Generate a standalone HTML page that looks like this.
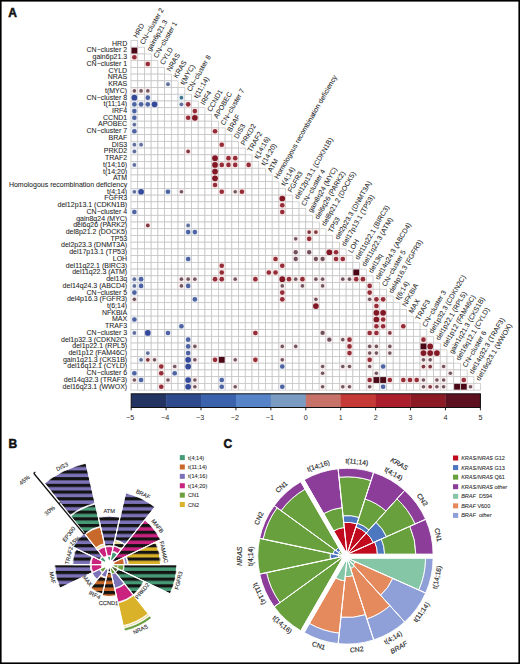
<!DOCTYPE html>
<html><head><meta charset="utf-8"><style>
html,body{margin:0;padding:0;background:#fff;}
svg{display:block;}
</style></head><body>
<svg width="520" height="664" viewBox="0 0 520 664">
<rect x="0" y="0" width="520" height="664" fill="#fff"/>
<g font-family="Liberation Sans, sans-serif" font-weight="bold" font-size="12" fill="#111" stroke="#111" stroke-width="0.5">
<text x="8.2" y="17.3">A</text>
<text x="8.6" y="448.2">B</text>
<text x="223.6" y="448.4">C</text>
</g>
<g fill="#fff" stroke="#c4c4c4" stroke-width="0.75">
<rect x="131.00" y="40.50" width="6.72" height="6.72"/>
<rect x="131.00" y="47.22" width="6.72" height="6.72"/>
<rect x="137.72" y="47.22" width="6.72" height="6.72"/>
<rect x="131.00" y="53.95" width="6.72" height="6.72"/>
<rect x="137.72" y="53.95" width="6.72" height="6.72"/>
<rect x="144.45" y="53.95" width="6.72" height="6.72"/>
<rect x="131.00" y="60.67" width="6.72" height="6.72"/>
<rect x="137.72" y="60.67" width="6.72" height="6.72"/>
<rect x="144.45" y="60.67" width="6.72" height="6.72"/>
<rect x="151.17" y="60.67" width="6.72" height="6.72"/>
<rect x="131.00" y="67.39" width="6.72" height="6.72"/>
<rect x="137.72" y="67.39" width="6.72" height="6.72"/>
<rect x="144.45" y="67.39" width="6.72" height="6.72"/>
<rect x="151.17" y="67.39" width="6.72" height="6.72"/>
<rect x="157.89" y="67.39" width="6.72" height="6.72"/>
<rect x="131.00" y="74.12" width="6.72" height="6.72"/>
<rect x="137.72" y="74.12" width="6.72" height="6.72"/>
<rect x="144.45" y="74.12" width="6.72" height="6.72"/>
<rect x="151.17" y="74.12" width="6.72" height="6.72"/>
<rect x="157.89" y="74.12" width="6.72" height="6.72"/>
<rect x="164.62" y="74.12" width="6.72" height="6.72"/>
<rect x="131.00" y="80.84" width="6.72" height="6.72"/>
<rect x="137.72" y="80.84" width="6.72" height="6.72"/>
<rect x="144.45" y="80.84" width="6.72" height="6.72"/>
<rect x="151.17" y="80.84" width="6.72" height="6.72"/>
<rect x="157.89" y="80.84" width="6.72" height="6.72"/>
<rect x="164.62" y="80.84" width="6.72" height="6.72"/>
<rect x="171.34" y="80.84" width="6.72" height="6.72"/>
<rect x="131.00" y="87.56" width="6.72" height="6.72"/>
<rect x="137.72" y="87.56" width="6.72" height="6.72"/>
<rect x="144.45" y="87.56" width="6.72" height="6.72"/>
<rect x="151.17" y="87.56" width="6.72" height="6.72"/>
<rect x="157.89" y="87.56" width="6.72" height="6.72"/>
<rect x="164.62" y="87.56" width="6.72" height="6.72"/>
<rect x="171.34" y="87.56" width="6.72" height="6.72"/>
<rect x="178.06" y="87.56" width="6.72" height="6.72"/>
<rect x="131.00" y="94.28" width="6.72" height="6.72"/>
<rect x="137.72" y="94.28" width="6.72" height="6.72"/>
<rect x="144.45" y="94.28" width="6.72" height="6.72"/>
<rect x="151.17" y="94.28" width="6.72" height="6.72"/>
<rect x="157.89" y="94.28" width="6.72" height="6.72"/>
<rect x="164.62" y="94.28" width="6.72" height="6.72"/>
<rect x="171.34" y="94.28" width="6.72" height="6.72"/>
<rect x="178.06" y="94.28" width="6.72" height="6.72"/>
<rect x="184.78" y="94.28" width="6.72" height="6.72"/>
<rect x="131.00" y="101.01" width="6.72" height="6.72"/>
<rect x="137.72" y="101.01" width="6.72" height="6.72"/>
<rect x="144.45" y="101.01" width="6.72" height="6.72"/>
<rect x="151.17" y="101.01" width="6.72" height="6.72"/>
<rect x="157.89" y="101.01" width="6.72" height="6.72"/>
<rect x="164.62" y="101.01" width="6.72" height="6.72"/>
<rect x="171.34" y="101.01" width="6.72" height="6.72"/>
<rect x="178.06" y="101.01" width="6.72" height="6.72"/>
<rect x="184.78" y="101.01" width="6.72" height="6.72"/>
<rect x="191.51" y="101.01" width="6.72" height="6.72"/>
<rect x="131.00" y="107.73" width="6.72" height="6.72"/>
<rect x="137.72" y="107.73" width="6.72" height="6.72"/>
<rect x="144.45" y="107.73" width="6.72" height="6.72"/>
<rect x="151.17" y="107.73" width="6.72" height="6.72"/>
<rect x="157.89" y="107.73" width="6.72" height="6.72"/>
<rect x="164.62" y="107.73" width="6.72" height="6.72"/>
<rect x="171.34" y="107.73" width="6.72" height="6.72"/>
<rect x="178.06" y="107.73" width="6.72" height="6.72"/>
<rect x="184.78" y="107.73" width="6.72" height="6.72"/>
<rect x="191.51" y="107.73" width="6.72" height="6.72"/>
<rect x="198.23" y="107.73" width="6.72" height="6.72"/>
<rect x="131.00" y="114.45" width="6.72" height="6.72"/>
<rect x="137.72" y="114.45" width="6.72" height="6.72"/>
<rect x="144.45" y="114.45" width="6.72" height="6.72"/>
<rect x="151.17" y="114.45" width="6.72" height="6.72"/>
<rect x="157.89" y="114.45" width="6.72" height="6.72"/>
<rect x="164.62" y="114.45" width="6.72" height="6.72"/>
<rect x="171.34" y="114.45" width="6.72" height="6.72"/>
<rect x="178.06" y="114.45" width="6.72" height="6.72"/>
<rect x="184.78" y="114.45" width="6.72" height="6.72"/>
<rect x="191.51" y="114.45" width="6.72" height="6.72"/>
<rect x="198.23" y="114.45" width="6.72" height="6.72"/>
<rect x="204.95" y="114.45" width="6.72" height="6.72"/>
<rect x="131.00" y="121.18" width="6.72" height="6.72"/>
<rect x="137.72" y="121.18" width="6.72" height="6.72"/>
<rect x="144.45" y="121.18" width="6.72" height="6.72"/>
<rect x="151.17" y="121.18" width="6.72" height="6.72"/>
<rect x="157.89" y="121.18" width="6.72" height="6.72"/>
<rect x="164.62" y="121.18" width="6.72" height="6.72"/>
<rect x="171.34" y="121.18" width="6.72" height="6.72"/>
<rect x="178.06" y="121.18" width="6.72" height="6.72"/>
<rect x="184.78" y="121.18" width="6.72" height="6.72"/>
<rect x="191.51" y="121.18" width="6.72" height="6.72"/>
<rect x="198.23" y="121.18" width="6.72" height="6.72"/>
<rect x="204.95" y="121.18" width="6.72" height="6.72"/>
<rect x="211.68" y="121.18" width="6.72" height="6.72"/>
<rect x="131.00" y="127.90" width="6.72" height="6.72"/>
<rect x="137.72" y="127.90" width="6.72" height="6.72"/>
<rect x="144.45" y="127.90" width="6.72" height="6.72"/>
<rect x="151.17" y="127.90" width="6.72" height="6.72"/>
<rect x="157.89" y="127.90" width="6.72" height="6.72"/>
<rect x="164.62" y="127.90" width="6.72" height="6.72"/>
<rect x="171.34" y="127.90" width="6.72" height="6.72"/>
<rect x="178.06" y="127.90" width="6.72" height="6.72"/>
<rect x="184.78" y="127.90" width="6.72" height="6.72"/>
<rect x="191.51" y="127.90" width="6.72" height="6.72"/>
<rect x="198.23" y="127.90" width="6.72" height="6.72"/>
<rect x="204.95" y="127.90" width="6.72" height="6.72"/>
<rect x="211.68" y="127.90" width="6.72" height="6.72"/>
<rect x="218.40" y="127.90" width="6.72" height="6.72"/>
<rect x="131.00" y="134.62" width="6.72" height="6.72"/>
<rect x="137.72" y="134.62" width="6.72" height="6.72"/>
<rect x="144.45" y="134.62" width="6.72" height="6.72"/>
<rect x="151.17" y="134.62" width="6.72" height="6.72"/>
<rect x="157.89" y="134.62" width="6.72" height="6.72"/>
<rect x="164.62" y="134.62" width="6.72" height="6.72"/>
<rect x="171.34" y="134.62" width="6.72" height="6.72"/>
<rect x="178.06" y="134.62" width="6.72" height="6.72"/>
<rect x="184.78" y="134.62" width="6.72" height="6.72"/>
<rect x="191.51" y="134.62" width="6.72" height="6.72"/>
<rect x="198.23" y="134.62" width="6.72" height="6.72"/>
<rect x="204.95" y="134.62" width="6.72" height="6.72"/>
<rect x="211.68" y="134.62" width="6.72" height="6.72"/>
<rect x="218.40" y="134.62" width="6.72" height="6.72"/>
<rect x="225.12" y="134.62" width="6.72" height="6.72"/>
<rect x="131.00" y="141.34" width="6.72" height="6.72"/>
<rect x="137.72" y="141.34" width="6.72" height="6.72"/>
<rect x="144.45" y="141.34" width="6.72" height="6.72"/>
<rect x="151.17" y="141.34" width="6.72" height="6.72"/>
<rect x="157.89" y="141.34" width="6.72" height="6.72"/>
<rect x="164.62" y="141.34" width="6.72" height="6.72"/>
<rect x="171.34" y="141.34" width="6.72" height="6.72"/>
<rect x="178.06" y="141.34" width="6.72" height="6.72"/>
<rect x="184.78" y="141.34" width="6.72" height="6.72"/>
<rect x="191.51" y="141.34" width="6.72" height="6.72"/>
<rect x="198.23" y="141.34" width="6.72" height="6.72"/>
<rect x="204.95" y="141.34" width="6.72" height="6.72"/>
<rect x="211.68" y="141.34" width="6.72" height="6.72"/>
<rect x="218.40" y="141.34" width="6.72" height="6.72"/>
<rect x="225.12" y="141.34" width="6.72" height="6.72"/>
<rect x="231.84" y="141.34" width="6.72" height="6.72"/>
<rect x="131.00" y="148.07" width="6.72" height="6.72"/>
<rect x="137.72" y="148.07" width="6.72" height="6.72"/>
<rect x="144.45" y="148.07" width="6.72" height="6.72"/>
<rect x="151.17" y="148.07" width="6.72" height="6.72"/>
<rect x="157.89" y="148.07" width="6.72" height="6.72"/>
<rect x="164.62" y="148.07" width="6.72" height="6.72"/>
<rect x="171.34" y="148.07" width="6.72" height="6.72"/>
<rect x="178.06" y="148.07" width="6.72" height="6.72"/>
<rect x="184.78" y="148.07" width="6.72" height="6.72"/>
<rect x="191.51" y="148.07" width="6.72" height="6.72"/>
<rect x="198.23" y="148.07" width="6.72" height="6.72"/>
<rect x="204.95" y="148.07" width="6.72" height="6.72"/>
<rect x="211.68" y="148.07" width="6.72" height="6.72"/>
<rect x="218.40" y="148.07" width="6.72" height="6.72"/>
<rect x="225.12" y="148.07" width="6.72" height="6.72"/>
<rect x="231.84" y="148.07" width="6.72" height="6.72"/>
<rect x="238.57" y="148.07" width="6.72" height="6.72"/>
<rect x="131.00" y="154.79" width="6.72" height="6.72"/>
<rect x="137.72" y="154.79" width="6.72" height="6.72"/>
<rect x="144.45" y="154.79" width="6.72" height="6.72"/>
<rect x="151.17" y="154.79" width="6.72" height="6.72"/>
<rect x="157.89" y="154.79" width="6.72" height="6.72"/>
<rect x="164.62" y="154.79" width="6.72" height="6.72"/>
<rect x="171.34" y="154.79" width="6.72" height="6.72"/>
<rect x="178.06" y="154.79" width="6.72" height="6.72"/>
<rect x="184.78" y="154.79" width="6.72" height="6.72"/>
<rect x="191.51" y="154.79" width="6.72" height="6.72"/>
<rect x="198.23" y="154.79" width="6.72" height="6.72"/>
<rect x="204.95" y="154.79" width="6.72" height="6.72"/>
<rect x="211.68" y="154.79" width="6.72" height="6.72"/>
<rect x="218.40" y="154.79" width="6.72" height="6.72"/>
<rect x="225.12" y="154.79" width="6.72" height="6.72"/>
<rect x="231.84" y="154.79" width="6.72" height="6.72"/>
<rect x="238.57" y="154.79" width="6.72" height="6.72"/>
<rect x="245.29" y="154.79" width="6.72" height="6.72"/>
<rect x="131.00" y="161.51" width="6.72" height="6.72"/>
<rect x="137.72" y="161.51" width="6.72" height="6.72"/>
<rect x="144.45" y="161.51" width="6.72" height="6.72"/>
<rect x="151.17" y="161.51" width="6.72" height="6.72"/>
<rect x="157.89" y="161.51" width="6.72" height="6.72"/>
<rect x="164.62" y="161.51" width="6.72" height="6.72"/>
<rect x="171.34" y="161.51" width="6.72" height="6.72"/>
<rect x="178.06" y="161.51" width="6.72" height="6.72"/>
<rect x="184.78" y="161.51" width="6.72" height="6.72"/>
<rect x="191.51" y="161.51" width="6.72" height="6.72"/>
<rect x="198.23" y="161.51" width="6.72" height="6.72"/>
<rect x="204.95" y="161.51" width="6.72" height="6.72"/>
<rect x="211.68" y="161.51" width="6.72" height="6.72"/>
<rect x="218.40" y="161.51" width="6.72" height="6.72"/>
<rect x="225.12" y="161.51" width="6.72" height="6.72"/>
<rect x="231.84" y="161.51" width="6.72" height="6.72"/>
<rect x="238.57" y="161.51" width="6.72" height="6.72"/>
<rect x="245.29" y="161.51" width="6.72" height="6.72"/>
<rect x="252.01" y="161.51" width="6.72" height="6.72"/>
<rect x="131.00" y="168.24" width="6.72" height="6.72"/>
<rect x="137.72" y="168.24" width="6.72" height="6.72"/>
<rect x="144.45" y="168.24" width="6.72" height="6.72"/>
<rect x="151.17" y="168.24" width="6.72" height="6.72"/>
<rect x="157.89" y="168.24" width="6.72" height="6.72"/>
<rect x="164.62" y="168.24" width="6.72" height="6.72"/>
<rect x="171.34" y="168.24" width="6.72" height="6.72"/>
<rect x="178.06" y="168.24" width="6.72" height="6.72"/>
<rect x="184.78" y="168.24" width="6.72" height="6.72"/>
<rect x="191.51" y="168.24" width="6.72" height="6.72"/>
<rect x="198.23" y="168.24" width="6.72" height="6.72"/>
<rect x="204.95" y="168.24" width="6.72" height="6.72"/>
<rect x="211.68" y="168.24" width="6.72" height="6.72"/>
<rect x="218.40" y="168.24" width="6.72" height="6.72"/>
<rect x="225.12" y="168.24" width="6.72" height="6.72"/>
<rect x="231.84" y="168.24" width="6.72" height="6.72"/>
<rect x="238.57" y="168.24" width="6.72" height="6.72"/>
<rect x="245.29" y="168.24" width="6.72" height="6.72"/>
<rect x="252.01" y="168.24" width="6.72" height="6.72"/>
<rect x="258.74" y="168.24" width="6.72" height="6.72"/>
<rect x="131.00" y="174.96" width="6.72" height="6.72"/>
<rect x="137.72" y="174.96" width="6.72" height="6.72"/>
<rect x="144.45" y="174.96" width="6.72" height="6.72"/>
<rect x="151.17" y="174.96" width="6.72" height="6.72"/>
<rect x="157.89" y="174.96" width="6.72" height="6.72"/>
<rect x="164.62" y="174.96" width="6.72" height="6.72"/>
<rect x="171.34" y="174.96" width="6.72" height="6.72"/>
<rect x="178.06" y="174.96" width="6.72" height="6.72"/>
<rect x="184.78" y="174.96" width="6.72" height="6.72"/>
<rect x="191.51" y="174.96" width="6.72" height="6.72"/>
<rect x="198.23" y="174.96" width="6.72" height="6.72"/>
<rect x="204.95" y="174.96" width="6.72" height="6.72"/>
<rect x="211.68" y="174.96" width="6.72" height="6.72"/>
<rect x="218.40" y="174.96" width="6.72" height="6.72"/>
<rect x="225.12" y="174.96" width="6.72" height="6.72"/>
<rect x="231.84" y="174.96" width="6.72" height="6.72"/>
<rect x="238.57" y="174.96" width="6.72" height="6.72"/>
<rect x="245.29" y="174.96" width="6.72" height="6.72"/>
<rect x="252.01" y="174.96" width="6.72" height="6.72"/>
<rect x="258.74" y="174.96" width="6.72" height="6.72"/>
<rect x="265.46" y="174.96" width="6.72" height="6.72"/>
<rect x="131.00" y="181.68" width="6.72" height="6.72"/>
<rect x="137.72" y="181.68" width="6.72" height="6.72"/>
<rect x="144.45" y="181.68" width="6.72" height="6.72"/>
<rect x="151.17" y="181.68" width="6.72" height="6.72"/>
<rect x="157.89" y="181.68" width="6.72" height="6.72"/>
<rect x="164.62" y="181.68" width="6.72" height="6.72"/>
<rect x="171.34" y="181.68" width="6.72" height="6.72"/>
<rect x="178.06" y="181.68" width="6.72" height="6.72"/>
<rect x="184.78" y="181.68" width="6.72" height="6.72"/>
<rect x="191.51" y="181.68" width="6.72" height="6.72"/>
<rect x="198.23" y="181.68" width="6.72" height="6.72"/>
<rect x="204.95" y="181.68" width="6.72" height="6.72"/>
<rect x="211.68" y="181.68" width="6.72" height="6.72"/>
<rect x="218.40" y="181.68" width="6.72" height="6.72"/>
<rect x="225.12" y="181.68" width="6.72" height="6.72"/>
<rect x="231.84" y="181.68" width="6.72" height="6.72"/>
<rect x="238.57" y="181.68" width="6.72" height="6.72"/>
<rect x="245.29" y="181.68" width="6.72" height="6.72"/>
<rect x="252.01" y="181.68" width="6.72" height="6.72"/>
<rect x="258.74" y="181.68" width="6.72" height="6.72"/>
<rect x="265.46" y="181.68" width="6.72" height="6.72"/>
<rect x="272.18" y="181.68" width="6.72" height="6.72"/>
<rect x="131.00" y="188.41" width="6.72" height="6.72"/>
<rect x="137.72" y="188.41" width="6.72" height="6.72"/>
<rect x="144.45" y="188.41" width="6.72" height="6.72"/>
<rect x="151.17" y="188.41" width="6.72" height="6.72"/>
<rect x="157.89" y="188.41" width="6.72" height="6.72"/>
<rect x="164.62" y="188.41" width="6.72" height="6.72"/>
<rect x="171.34" y="188.41" width="6.72" height="6.72"/>
<rect x="178.06" y="188.41" width="6.72" height="6.72"/>
<rect x="184.78" y="188.41" width="6.72" height="6.72"/>
<rect x="191.51" y="188.41" width="6.72" height="6.72"/>
<rect x="198.23" y="188.41" width="6.72" height="6.72"/>
<rect x="204.95" y="188.41" width="6.72" height="6.72"/>
<rect x="211.68" y="188.41" width="6.72" height="6.72"/>
<rect x="218.40" y="188.41" width="6.72" height="6.72"/>
<rect x="225.12" y="188.41" width="6.72" height="6.72"/>
<rect x="231.84" y="188.41" width="6.72" height="6.72"/>
<rect x="238.57" y="188.41" width="6.72" height="6.72"/>
<rect x="245.29" y="188.41" width="6.72" height="6.72"/>
<rect x="252.01" y="188.41" width="6.72" height="6.72"/>
<rect x="258.74" y="188.41" width="6.72" height="6.72"/>
<rect x="265.46" y="188.41" width="6.72" height="6.72"/>
<rect x="272.18" y="188.41" width="6.72" height="6.72"/>
<rect x="278.91" y="188.41" width="6.72" height="6.72"/>
<rect x="131.00" y="195.13" width="6.72" height="6.72"/>
<rect x="137.72" y="195.13" width="6.72" height="6.72"/>
<rect x="144.45" y="195.13" width="6.72" height="6.72"/>
<rect x="151.17" y="195.13" width="6.72" height="6.72"/>
<rect x="157.89" y="195.13" width="6.72" height="6.72"/>
<rect x="164.62" y="195.13" width="6.72" height="6.72"/>
<rect x="171.34" y="195.13" width="6.72" height="6.72"/>
<rect x="178.06" y="195.13" width="6.72" height="6.72"/>
<rect x="184.78" y="195.13" width="6.72" height="6.72"/>
<rect x="191.51" y="195.13" width="6.72" height="6.72"/>
<rect x="198.23" y="195.13" width="6.72" height="6.72"/>
<rect x="204.95" y="195.13" width="6.72" height="6.72"/>
<rect x="211.68" y="195.13" width="6.72" height="6.72"/>
<rect x="218.40" y="195.13" width="6.72" height="6.72"/>
<rect x="225.12" y="195.13" width="6.72" height="6.72"/>
<rect x="231.84" y="195.13" width="6.72" height="6.72"/>
<rect x="238.57" y="195.13" width="6.72" height="6.72"/>
<rect x="245.29" y="195.13" width="6.72" height="6.72"/>
<rect x="252.01" y="195.13" width="6.72" height="6.72"/>
<rect x="258.74" y="195.13" width="6.72" height="6.72"/>
<rect x="265.46" y="195.13" width="6.72" height="6.72"/>
<rect x="272.18" y="195.13" width="6.72" height="6.72"/>
<rect x="278.91" y="195.13" width="6.72" height="6.72"/>
<rect x="285.63" y="195.13" width="6.72" height="6.72"/>
<rect x="131.00" y="201.85" width="6.72" height="6.72"/>
<rect x="137.72" y="201.85" width="6.72" height="6.72"/>
<rect x="144.45" y="201.85" width="6.72" height="6.72"/>
<rect x="151.17" y="201.85" width="6.72" height="6.72"/>
<rect x="157.89" y="201.85" width="6.72" height="6.72"/>
<rect x="164.62" y="201.85" width="6.72" height="6.72"/>
<rect x="171.34" y="201.85" width="6.72" height="6.72"/>
<rect x="178.06" y="201.85" width="6.72" height="6.72"/>
<rect x="184.78" y="201.85" width="6.72" height="6.72"/>
<rect x="191.51" y="201.85" width="6.72" height="6.72"/>
<rect x="198.23" y="201.85" width="6.72" height="6.72"/>
<rect x="204.95" y="201.85" width="6.72" height="6.72"/>
<rect x="211.68" y="201.85" width="6.72" height="6.72"/>
<rect x="218.40" y="201.85" width="6.72" height="6.72"/>
<rect x="225.12" y="201.85" width="6.72" height="6.72"/>
<rect x="231.84" y="201.85" width="6.72" height="6.72"/>
<rect x="238.57" y="201.85" width="6.72" height="6.72"/>
<rect x="245.29" y="201.85" width="6.72" height="6.72"/>
<rect x="252.01" y="201.85" width="6.72" height="6.72"/>
<rect x="258.74" y="201.85" width="6.72" height="6.72"/>
<rect x="265.46" y="201.85" width="6.72" height="6.72"/>
<rect x="272.18" y="201.85" width="6.72" height="6.72"/>
<rect x="278.91" y="201.85" width="6.72" height="6.72"/>
<rect x="285.63" y="201.85" width="6.72" height="6.72"/>
<rect x="292.35" y="201.85" width="6.72" height="6.72"/>
<rect x="131.00" y="208.57" width="6.72" height="6.72"/>
<rect x="137.72" y="208.57" width="6.72" height="6.72"/>
<rect x="144.45" y="208.57" width="6.72" height="6.72"/>
<rect x="151.17" y="208.57" width="6.72" height="6.72"/>
<rect x="157.89" y="208.57" width="6.72" height="6.72"/>
<rect x="164.62" y="208.57" width="6.72" height="6.72"/>
<rect x="171.34" y="208.57" width="6.72" height="6.72"/>
<rect x="178.06" y="208.57" width="6.72" height="6.72"/>
<rect x="184.78" y="208.57" width="6.72" height="6.72"/>
<rect x="191.51" y="208.57" width="6.72" height="6.72"/>
<rect x="198.23" y="208.57" width="6.72" height="6.72"/>
<rect x="204.95" y="208.57" width="6.72" height="6.72"/>
<rect x="211.68" y="208.57" width="6.72" height="6.72"/>
<rect x="218.40" y="208.57" width="6.72" height="6.72"/>
<rect x="225.12" y="208.57" width="6.72" height="6.72"/>
<rect x="231.84" y="208.57" width="6.72" height="6.72"/>
<rect x="238.57" y="208.57" width="6.72" height="6.72"/>
<rect x="245.29" y="208.57" width="6.72" height="6.72"/>
<rect x="252.01" y="208.57" width="6.72" height="6.72"/>
<rect x="258.74" y="208.57" width="6.72" height="6.72"/>
<rect x="265.46" y="208.57" width="6.72" height="6.72"/>
<rect x="272.18" y="208.57" width="6.72" height="6.72"/>
<rect x="278.91" y="208.57" width="6.72" height="6.72"/>
<rect x="285.63" y="208.57" width="6.72" height="6.72"/>
<rect x="292.35" y="208.57" width="6.72" height="6.72"/>
<rect x="299.07" y="208.57" width="6.72" height="6.72"/>
<rect x="131.00" y="215.30" width="6.72" height="6.72"/>
<rect x="137.72" y="215.30" width="6.72" height="6.72"/>
<rect x="144.45" y="215.30" width="6.72" height="6.72"/>
<rect x="151.17" y="215.30" width="6.72" height="6.72"/>
<rect x="157.89" y="215.30" width="6.72" height="6.72"/>
<rect x="164.62" y="215.30" width="6.72" height="6.72"/>
<rect x="171.34" y="215.30" width="6.72" height="6.72"/>
<rect x="178.06" y="215.30" width="6.72" height="6.72"/>
<rect x="184.78" y="215.30" width="6.72" height="6.72"/>
<rect x="191.51" y="215.30" width="6.72" height="6.72"/>
<rect x="198.23" y="215.30" width="6.72" height="6.72"/>
<rect x="204.95" y="215.30" width="6.72" height="6.72"/>
<rect x="211.68" y="215.30" width="6.72" height="6.72"/>
<rect x="218.40" y="215.30" width="6.72" height="6.72"/>
<rect x="225.12" y="215.30" width="6.72" height="6.72"/>
<rect x="231.84" y="215.30" width="6.72" height="6.72"/>
<rect x="238.57" y="215.30" width="6.72" height="6.72"/>
<rect x="245.29" y="215.30" width="6.72" height="6.72"/>
<rect x="252.01" y="215.30" width="6.72" height="6.72"/>
<rect x="258.74" y="215.30" width="6.72" height="6.72"/>
<rect x="265.46" y="215.30" width="6.72" height="6.72"/>
<rect x="272.18" y="215.30" width="6.72" height="6.72"/>
<rect x="278.91" y="215.30" width="6.72" height="6.72"/>
<rect x="285.63" y="215.30" width="6.72" height="6.72"/>
<rect x="292.35" y="215.30" width="6.72" height="6.72"/>
<rect x="299.07" y="215.30" width="6.72" height="6.72"/>
<rect x="305.80" y="215.30" width="6.72" height="6.72"/>
<rect x="131.00" y="222.02" width="6.72" height="6.72"/>
<rect x="137.72" y="222.02" width="6.72" height="6.72"/>
<rect x="144.45" y="222.02" width="6.72" height="6.72"/>
<rect x="151.17" y="222.02" width="6.72" height="6.72"/>
<rect x="157.89" y="222.02" width="6.72" height="6.72"/>
<rect x="164.62" y="222.02" width="6.72" height="6.72"/>
<rect x="171.34" y="222.02" width="6.72" height="6.72"/>
<rect x="178.06" y="222.02" width="6.72" height="6.72"/>
<rect x="184.78" y="222.02" width="6.72" height="6.72"/>
<rect x="191.51" y="222.02" width="6.72" height="6.72"/>
<rect x="198.23" y="222.02" width="6.72" height="6.72"/>
<rect x="204.95" y="222.02" width="6.72" height="6.72"/>
<rect x="211.68" y="222.02" width="6.72" height="6.72"/>
<rect x="218.40" y="222.02" width="6.72" height="6.72"/>
<rect x="225.12" y="222.02" width="6.72" height="6.72"/>
<rect x="231.84" y="222.02" width="6.72" height="6.72"/>
<rect x="238.57" y="222.02" width="6.72" height="6.72"/>
<rect x="245.29" y="222.02" width="6.72" height="6.72"/>
<rect x="252.01" y="222.02" width="6.72" height="6.72"/>
<rect x="258.74" y="222.02" width="6.72" height="6.72"/>
<rect x="265.46" y="222.02" width="6.72" height="6.72"/>
<rect x="272.18" y="222.02" width="6.72" height="6.72"/>
<rect x="278.91" y="222.02" width="6.72" height="6.72"/>
<rect x="285.63" y="222.02" width="6.72" height="6.72"/>
<rect x="292.35" y="222.02" width="6.72" height="6.72"/>
<rect x="299.07" y="222.02" width="6.72" height="6.72"/>
<rect x="305.80" y="222.02" width="6.72" height="6.72"/>
<rect x="312.52" y="222.02" width="6.72" height="6.72"/>
<rect x="131.00" y="228.74" width="6.72" height="6.72"/>
<rect x="137.72" y="228.74" width="6.72" height="6.72"/>
<rect x="144.45" y="228.74" width="6.72" height="6.72"/>
<rect x="151.17" y="228.74" width="6.72" height="6.72"/>
<rect x="157.89" y="228.74" width="6.72" height="6.72"/>
<rect x="164.62" y="228.74" width="6.72" height="6.72"/>
<rect x="171.34" y="228.74" width="6.72" height="6.72"/>
<rect x="178.06" y="228.74" width="6.72" height="6.72"/>
<rect x="184.78" y="228.74" width="6.72" height="6.72"/>
<rect x="191.51" y="228.74" width="6.72" height="6.72"/>
<rect x="198.23" y="228.74" width="6.72" height="6.72"/>
<rect x="204.95" y="228.74" width="6.72" height="6.72"/>
<rect x="211.68" y="228.74" width="6.72" height="6.72"/>
<rect x="218.40" y="228.74" width="6.72" height="6.72"/>
<rect x="225.12" y="228.74" width="6.72" height="6.72"/>
<rect x="231.84" y="228.74" width="6.72" height="6.72"/>
<rect x="238.57" y="228.74" width="6.72" height="6.72"/>
<rect x="245.29" y="228.74" width="6.72" height="6.72"/>
<rect x="252.01" y="228.74" width="6.72" height="6.72"/>
<rect x="258.74" y="228.74" width="6.72" height="6.72"/>
<rect x="265.46" y="228.74" width="6.72" height="6.72"/>
<rect x="272.18" y="228.74" width="6.72" height="6.72"/>
<rect x="278.91" y="228.74" width="6.72" height="6.72"/>
<rect x="285.63" y="228.74" width="6.72" height="6.72"/>
<rect x="292.35" y="228.74" width="6.72" height="6.72"/>
<rect x="299.07" y="228.74" width="6.72" height="6.72"/>
<rect x="305.80" y="228.74" width="6.72" height="6.72"/>
<rect x="312.52" y="228.74" width="6.72" height="6.72"/>
<rect x="319.24" y="228.74" width="6.72" height="6.72"/>
<rect x="131.00" y="235.47" width="6.72" height="6.72"/>
<rect x="137.72" y="235.47" width="6.72" height="6.72"/>
<rect x="144.45" y="235.47" width="6.72" height="6.72"/>
<rect x="151.17" y="235.47" width="6.72" height="6.72"/>
<rect x="157.89" y="235.47" width="6.72" height="6.72"/>
<rect x="164.62" y="235.47" width="6.72" height="6.72"/>
<rect x="171.34" y="235.47" width="6.72" height="6.72"/>
<rect x="178.06" y="235.47" width="6.72" height="6.72"/>
<rect x="184.78" y="235.47" width="6.72" height="6.72"/>
<rect x="191.51" y="235.47" width="6.72" height="6.72"/>
<rect x="198.23" y="235.47" width="6.72" height="6.72"/>
<rect x="204.95" y="235.47" width="6.72" height="6.72"/>
<rect x="211.68" y="235.47" width="6.72" height="6.72"/>
<rect x="218.40" y="235.47" width="6.72" height="6.72"/>
<rect x="225.12" y="235.47" width="6.72" height="6.72"/>
<rect x="231.84" y="235.47" width="6.72" height="6.72"/>
<rect x="238.57" y="235.47" width="6.72" height="6.72"/>
<rect x="245.29" y="235.47" width="6.72" height="6.72"/>
<rect x="252.01" y="235.47" width="6.72" height="6.72"/>
<rect x="258.74" y="235.47" width="6.72" height="6.72"/>
<rect x="265.46" y="235.47" width="6.72" height="6.72"/>
<rect x="272.18" y="235.47" width="6.72" height="6.72"/>
<rect x="278.91" y="235.47" width="6.72" height="6.72"/>
<rect x="285.63" y="235.47" width="6.72" height="6.72"/>
<rect x="292.35" y="235.47" width="6.72" height="6.72"/>
<rect x="299.07" y="235.47" width="6.72" height="6.72"/>
<rect x="305.80" y="235.47" width="6.72" height="6.72"/>
<rect x="312.52" y="235.47" width="6.72" height="6.72"/>
<rect x="319.24" y="235.47" width="6.72" height="6.72"/>
<rect x="325.97" y="235.47" width="6.72" height="6.72"/>
<rect x="131.00" y="242.19" width="6.72" height="6.72"/>
<rect x="137.72" y="242.19" width="6.72" height="6.72"/>
<rect x="144.45" y="242.19" width="6.72" height="6.72"/>
<rect x="151.17" y="242.19" width="6.72" height="6.72"/>
<rect x="157.89" y="242.19" width="6.72" height="6.72"/>
<rect x="164.62" y="242.19" width="6.72" height="6.72"/>
<rect x="171.34" y="242.19" width="6.72" height="6.72"/>
<rect x="178.06" y="242.19" width="6.72" height="6.72"/>
<rect x="184.78" y="242.19" width="6.72" height="6.72"/>
<rect x="191.51" y="242.19" width="6.72" height="6.72"/>
<rect x="198.23" y="242.19" width="6.72" height="6.72"/>
<rect x="204.95" y="242.19" width="6.72" height="6.72"/>
<rect x="211.68" y="242.19" width="6.72" height="6.72"/>
<rect x="218.40" y="242.19" width="6.72" height="6.72"/>
<rect x="225.12" y="242.19" width="6.72" height="6.72"/>
<rect x="231.84" y="242.19" width="6.72" height="6.72"/>
<rect x="238.57" y="242.19" width="6.72" height="6.72"/>
<rect x="245.29" y="242.19" width="6.72" height="6.72"/>
<rect x="252.01" y="242.19" width="6.72" height="6.72"/>
<rect x="258.74" y="242.19" width="6.72" height="6.72"/>
<rect x="265.46" y="242.19" width="6.72" height="6.72"/>
<rect x="272.18" y="242.19" width="6.72" height="6.72"/>
<rect x="278.91" y="242.19" width="6.72" height="6.72"/>
<rect x="285.63" y="242.19" width="6.72" height="6.72"/>
<rect x="292.35" y="242.19" width="6.72" height="6.72"/>
<rect x="299.07" y="242.19" width="6.72" height="6.72"/>
<rect x="305.80" y="242.19" width="6.72" height="6.72"/>
<rect x="312.52" y="242.19" width="6.72" height="6.72"/>
<rect x="319.24" y="242.19" width="6.72" height="6.72"/>
<rect x="325.97" y="242.19" width="6.72" height="6.72"/>
<rect x="332.69" y="242.19" width="6.72" height="6.72"/>
<rect x="131.00" y="248.91" width="6.72" height="6.72"/>
<rect x="137.72" y="248.91" width="6.72" height="6.72"/>
<rect x="144.45" y="248.91" width="6.72" height="6.72"/>
<rect x="151.17" y="248.91" width="6.72" height="6.72"/>
<rect x="157.89" y="248.91" width="6.72" height="6.72"/>
<rect x="164.62" y="248.91" width="6.72" height="6.72"/>
<rect x="171.34" y="248.91" width="6.72" height="6.72"/>
<rect x="178.06" y="248.91" width="6.72" height="6.72"/>
<rect x="184.78" y="248.91" width="6.72" height="6.72"/>
<rect x="191.51" y="248.91" width="6.72" height="6.72"/>
<rect x="198.23" y="248.91" width="6.72" height="6.72"/>
<rect x="204.95" y="248.91" width="6.72" height="6.72"/>
<rect x="211.68" y="248.91" width="6.72" height="6.72"/>
<rect x="218.40" y="248.91" width="6.72" height="6.72"/>
<rect x="225.12" y="248.91" width="6.72" height="6.72"/>
<rect x="231.84" y="248.91" width="6.72" height="6.72"/>
<rect x="238.57" y="248.91" width="6.72" height="6.72"/>
<rect x="245.29" y="248.91" width="6.72" height="6.72"/>
<rect x="252.01" y="248.91" width="6.72" height="6.72"/>
<rect x="258.74" y="248.91" width="6.72" height="6.72"/>
<rect x="265.46" y="248.91" width="6.72" height="6.72"/>
<rect x="272.18" y="248.91" width="6.72" height="6.72"/>
<rect x="278.91" y="248.91" width="6.72" height="6.72"/>
<rect x="285.63" y="248.91" width="6.72" height="6.72"/>
<rect x="292.35" y="248.91" width="6.72" height="6.72"/>
<rect x="299.07" y="248.91" width="6.72" height="6.72"/>
<rect x="305.80" y="248.91" width="6.72" height="6.72"/>
<rect x="312.52" y="248.91" width="6.72" height="6.72"/>
<rect x="319.24" y="248.91" width="6.72" height="6.72"/>
<rect x="325.97" y="248.91" width="6.72" height="6.72"/>
<rect x="332.69" y="248.91" width="6.72" height="6.72"/>
<rect x="339.41" y="248.91" width="6.72" height="6.72"/>
<rect x="131.00" y="255.64" width="6.72" height="6.72"/>
<rect x="137.72" y="255.64" width="6.72" height="6.72"/>
<rect x="144.45" y="255.64" width="6.72" height="6.72"/>
<rect x="151.17" y="255.64" width="6.72" height="6.72"/>
<rect x="157.89" y="255.64" width="6.72" height="6.72"/>
<rect x="164.62" y="255.64" width="6.72" height="6.72"/>
<rect x="171.34" y="255.64" width="6.72" height="6.72"/>
<rect x="178.06" y="255.64" width="6.72" height="6.72"/>
<rect x="184.78" y="255.64" width="6.72" height="6.72"/>
<rect x="191.51" y="255.64" width="6.72" height="6.72"/>
<rect x="198.23" y="255.64" width="6.72" height="6.72"/>
<rect x="204.95" y="255.64" width="6.72" height="6.72"/>
<rect x="211.68" y="255.64" width="6.72" height="6.72"/>
<rect x="218.40" y="255.64" width="6.72" height="6.72"/>
<rect x="225.12" y="255.64" width="6.72" height="6.72"/>
<rect x="231.84" y="255.64" width="6.72" height="6.72"/>
<rect x="238.57" y="255.64" width="6.72" height="6.72"/>
<rect x="245.29" y="255.64" width="6.72" height="6.72"/>
<rect x="252.01" y="255.64" width="6.72" height="6.72"/>
<rect x="258.74" y="255.64" width="6.72" height="6.72"/>
<rect x="265.46" y="255.64" width="6.72" height="6.72"/>
<rect x="272.18" y="255.64" width="6.72" height="6.72"/>
<rect x="278.91" y="255.64" width="6.72" height="6.72"/>
<rect x="285.63" y="255.64" width="6.72" height="6.72"/>
<rect x="292.35" y="255.64" width="6.72" height="6.72"/>
<rect x="299.07" y="255.64" width="6.72" height="6.72"/>
<rect x="305.80" y="255.64" width="6.72" height="6.72"/>
<rect x="312.52" y="255.64" width="6.72" height="6.72"/>
<rect x="319.24" y="255.64" width="6.72" height="6.72"/>
<rect x="325.97" y="255.64" width="6.72" height="6.72"/>
<rect x="332.69" y="255.64" width="6.72" height="6.72"/>
<rect x="339.41" y="255.64" width="6.72" height="6.72"/>
<rect x="346.14" y="255.64" width="6.72" height="6.72"/>
<rect x="131.00" y="262.36" width="6.72" height="6.72"/>
<rect x="137.72" y="262.36" width="6.72" height="6.72"/>
<rect x="144.45" y="262.36" width="6.72" height="6.72"/>
<rect x="151.17" y="262.36" width="6.72" height="6.72"/>
<rect x="157.89" y="262.36" width="6.72" height="6.72"/>
<rect x="164.62" y="262.36" width="6.72" height="6.72"/>
<rect x="171.34" y="262.36" width="6.72" height="6.72"/>
<rect x="178.06" y="262.36" width="6.72" height="6.72"/>
<rect x="184.78" y="262.36" width="6.72" height="6.72"/>
<rect x="191.51" y="262.36" width="6.72" height="6.72"/>
<rect x="198.23" y="262.36" width="6.72" height="6.72"/>
<rect x="204.95" y="262.36" width="6.72" height="6.72"/>
<rect x="211.68" y="262.36" width="6.72" height="6.72"/>
<rect x="218.40" y="262.36" width="6.72" height="6.72"/>
<rect x="225.12" y="262.36" width="6.72" height="6.72"/>
<rect x="231.84" y="262.36" width="6.72" height="6.72"/>
<rect x="238.57" y="262.36" width="6.72" height="6.72"/>
<rect x="245.29" y="262.36" width="6.72" height="6.72"/>
<rect x="252.01" y="262.36" width="6.72" height="6.72"/>
<rect x="258.74" y="262.36" width="6.72" height="6.72"/>
<rect x="265.46" y="262.36" width="6.72" height="6.72"/>
<rect x="272.18" y="262.36" width="6.72" height="6.72"/>
<rect x="278.91" y="262.36" width="6.72" height="6.72"/>
<rect x="285.63" y="262.36" width="6.72" height="6.72"/>
<rect x="292.35" y="262.36" width="6.72" height="6.72"/>
<rect x="299.07" y="262.36" width="6.72" height="6.72"/>
<rect x="305.80" y="262.36" width="6.72" height="6.72"/>
<rect x="312.52" y="262.36" width="6.72" height="6.72"/>
<rect x="319.24" y="262.36" width="6.72" height="6.72"/>
<rect x="325.97" y="262.36" width="6.72" height="6.72"/>
<rect x="332.69" y="262.36" width="6.72" height="6.72"/>
<rect x="339.41" y="262.36" width="6.72" height="6.72"/>
<rect x="346.14" y="262.36" width="6.72" height="6.72"/>
<rect x="352.86" y="262.36" width="6.72" height="6.72"/>
<rect x="131.00" y="269.08" width="6.72" height="6.72"/>
<rect x="137.72" y="269.08" width="6.72" height="6.72"/>
<rect x="144.45" y="269.08" width="6.72" height="6.72"/>
<rect x="151.17" y="269.08" width="6.72" height="6.72"/>
<rect x="157.89" y="269.08" width="6.72" height="6.72"/>
<rect x="164.62" y="269.08" width="6.72" height="6.72"/>
<rect x="171.34" y="269.08" width="6.72" height="6.72"/>
<rect x="178.06" y="269.08" width="6.72" height="6.72"/>
<rect x="184.78" y="269.08" width="6.72" height="6.72"/>
<rect x="191.51" y="269.08" width="6.72" height="6.72"/>
<rect x="198.23" y="269.08" width="6.72" height="6.72"/>
<rect x="204.95" y="269.08" width="6.72" height="6.72"/>
<rect x="211.68" y="269.08" width="6.72" height="6.72"/>
<rect x="218.40" y="269.08" width="6.72" height="6.72"/>
<rect x="225.12" y="269.08" width="6.72" height="6.72"/>
<rect x="231.84" y="269.08" width="6.72" height="6.72"/>
<rect x="238.57" y="269.08" width="6.72" height="6.72"/>
<rect x="245.29" y="269.08" width="6.72" height="6.72"/>
<rect x="252.01" y="269.08" width="6.72" height="6.72"/>
<rect x="258.74" y="269.08" width="6.72" height="6.72"/>
<rect x="265.46" y="269.08" width="6.72" height="6.72"/>
<rect x="272.18" y="269.08" width="6.72" height="6.72"/>
<rect x="278.91" y="269.08" width="6.72" height="6.72"/>
<rect x="285.63" y="269.08" width="6.72" height="6.72"/>
<rect x="292.35" y="269.08" width="6.72" height="6.72"/>
<rect x="299.07" y="269.08" width="6.72" height="6.72"/>
<rect x="305.80" y="269.08" width="6.72" height="6.72"/>
<rect x="312.52" y="269.08" width="6.72" height="6.72"/>
<rect x="319.24" y="269.08" width="6.72" height="6.72"/>
<rect x="325.97" y="269.08" width="6.72" height="6.72"/>
<rect x="332.69" y="269.08" width="6.72" height="6.72"/>
<rect x="339.41" y="269.08" width="6.72" height="6.72"/>
<rect x="346.14" y="269.08" width="6.72" height="6.72"/>
<rect x="352.86" y="269.08" width="6.72" height="6.72"/>
<rect x="359.58" y="269.08" width="6.72" height="6.72"/>
<rect x="131.00" y="275.81" width="6.72" height="6.72"/>
<rect x="137.72" y="275.81" width="6.72" height="6.72"/>
<rect x="144.45" y="275.81" width="6.72" height="6.72"/>
<rect x="151.17" y="275.81" width="6.72" height="6.72"/>
<rect x="157.89" y="275.81" width="6.72" height="6.72"/>
<rect x="164.62" y="275.81" width="6.72" height="6.72"/>
<rect x="171.34" y="275.81" width="6.72" height="6.72"/>
<rect x="178.06" y="275.81" width="6.72" height="6.72"/>
<rect x="184.78" y="275.81" width="6.72" height="6.72"/>
<rect x="191.51" y="275.81" width="6.72" height="6.72"/>
<rect x="198.23" y="275.81" width="6.72" height="6.72"/>
<rect x="204.95" y="275.81" width="6.72" height="6.72"/>
<rect x="211.68" y="275.81" width="6.72" height="6.72"/>
<rect x="218.40" y="275.81" width="6.72" height="6.72"/>
<rect x="225.12" y="275.81" width="6.72" height="6.72"/>
<rect x="231.84" y="275.81" width="6.72" height="6.72"/>
<rect x="238.57" y="275.81" width="6.72" height="6.72"/>
<rect x="245.29" y="275.81" width="6.72" height="6.72"/>
<rect x="252.01" y="275.81" width="6.72" height="6.72"/>
<rect x="258.74" y="275.81" width="6.72" height="6.72"/>
<rect x="265.46" y="275.81" width="6.72" height="6.72"/>
<rect x="272.18" y="275.81" width="6.72" height="6.72"/>
<rect x="278.91" y="275.81" width="6.72" height="6.72"/>
<rect x="285.63" y="275.81" width="6.72" height="6.72"/>
<rect x="292.35" y="275.81" width="6.72" height="6.72"/>
<rect x="299.07" y="275.81" width="6.72" height="6.72"/>
<rect x="305.80" y="275.81" width="6.72" height="6.72"/>
<rect x="312.52" y="275.81" width="6.72" height="6.72"/>
<rect x="319.24" y="275.81" width="6.72" height="6.72"/>
<rect x="325.97" y="275.81" width="6.72" height="6.72"/>
<rect x="332.69" y="275.81" width="6.72" height="6.72"/>
<rect x="339.41" y="275.81" width="6.72" height="6.72"/>
<rect x="346.14" y="275.81" width="6.72" height="6.72"/>
<rect x="352.86" y="275.81" width="6.72" height="6.72"/>
<rect x="359.58" y="275.81" width="6.72" height="6.72"/>
<rect x="366.31" y="275.81" width="6.72" height="6.72"/>
<rect x="131.00" y="282.53" width="6.72" height="6.72"/>
<rect x="137.72" y="282.53" width="6.72" height="6.72"/>
<rect x="144.45" y="282.53" width="6.72" height="6.72"/>
<rect x="151.17" y="282.53" width="6.72" height="6.72"/>
<rect x="157.89" y="282.53" width="6.72" height="6.72"/>
<rect x="164.62" y="282.53" width="6.72" height="6.72"/>
<rect x="171.34" y="282.53" width="6.72" height="6.72"/>
<rect x="178.06" y="282.53" width="6.72" height="6.72"/>
<rect x="184.78" y="282.53" width="6.72" height="6.72"/>
<rect x="191.51" y="282.53" width="6.72" height="6.72"/>
<rect x="198.23" y="282.53" width="6.72" height="6.72"/>
<rect x="204.95" y="282.53" width="6.72" height="6.72"/>
<rect x="211.68" y="282.53" width="6.72" height="6.72"/>
<rect x="218.40" y="282.53" width="6.72" height="6.72"/>
<rect x="225.12" y="282.53" width="6.72" height="6.72"/>
<rect x="231.84" y="282.53" width="6.72" height="6.72"/>
<rect x="238.57" y="282.53" width="6.72" height="6.72"/>
<rect x="245.29" y="282.53" width="6.72" height="6.72"/>
<rect x="252.01" y="282.53" width="6.72" height="6.72"/>
<rect x="258.74" y="282.53" width="6.72" height="6.72"/>
<rect x="265.46" y="282.53" width="6.72" height="6.72"/>
<rect x="272.18" y="282.53" width="6.72" height="6.72"/>
<rect x="278.91" y="282.53" width="6.72" height="6.72"/>
<rect x="285.63" y="282.53" width="6.72" height="6.72"/>
<rect x="292.35" y="282.53" width="6.72" height="6.72"/>
<rect x="299.07" y="282.53" width="6.72" height="6.72"/>
<rect x="305.80" y="282.53" width="6.72" height="6.72"/>
<rect x="312.52" y="282.53" width="6.72" height="6.72"/>
<rect x="319.24" y="282.53" width="6.72" height="6.72"/>
<rect x="325.97" y="282.53" width="6.72" height="6.72"/>
<rect x="332.69" y="282.53" width="6.72" height="6.72"/>
<rect x="339.41" y="282.53" width="6.72" height="6.72"/>
<rect x="346.14" y="282.53" width="6.72" height="6.72"/>
<rect x="352.86" y="282.53" width="6.72" height="6.72"/>
<rect x="359.58" y="282.53" width="6.72" height="6.72"/>
<rect x="366.31" y="282.53" width="6.72" height="6.72"/>
<rect x="373.03" y="282.53" width="6.72" height="6.72"/>
<rect x="131.00" y="289.25" width="6.72" height="6.72"/>
<rect x="137.72" y="289.25" width="6.72" height="6.72"/>
<rect x="144.45" y="289.25" width="6.72" height="6.72"/>
<rect x="151.17" y="289.25" width="6.72" height="6.72"/>
<rect x="157.89" y="289.25" width="6.72" height="6.72"/>
<rect x="164.62" y="289.25" width="6.72" height="6.72"/>
<rect x="171.34" y="289.25" width="6.72" height="6.72"/>
<rect x="178.06" y="289.25" width="6.72" height="6.72"/>
<rect x="184.78" y="289.25" width="6.72" height="6.72"/>
<rect x="191.51" y="289.25" width="6.72" height="6.72"/>
<rect x="198.23" y="289.25" width="6.72" height="6.72"/>
<rect x="204.95" y="289.25" width="6.72" height="6.72"/>
<rect x="211.68" y="289.25" width="6.72" height="6.72"/>
<rect x="218.40" y="289.25" width="6.72" height="6.72"/>
<rect x="225.12" y="289.25" width="6.72" height="6.72"/>
<rect x="231.84" y="289.25" width="6.72" height="6.72"/>
<rect x="238.57" y="289.25" width="6.72" height="6.72"/>
<rect x="245.29" y="289.25" width="6.72" height="6.72"/>
<rect x="252.01" y="289.25" width="6.72" height="6.72"/>
<rect x="258.74" y="289.25" width="6.72" height="6.72"/>
<rect x="265.46" y="289.25" width="6.72" height="6.72"/>
<rect x="272.18" y="289.25" width="6.72" height="6.72"/>
<rect x="278.91" y="289.25" width="6.72" height="6.72"/>
<rect x="285.63" y="289.25" width="6.72" height="6.72"/>
<rect x="292.35" y="289.25" width="6.72" height="6.72"/>
<rect x="299.07" y="289.25" width="6.72" height="6.72"/>
<rect x="305.80" y="289.25" width="6.72" height="6.72"/>
<rect x="312.52" y="289.25" width="6.72" height="6.72"/>
<rect x="319.24" y="289.25" width="6.72" height="6.72"/>
<rect x="325.97" y="289.25" width="6.72" height="6.72"/>
<rect x="332.69" y="289.25" width="6.72" height="6.72"/>
<rect x="339.41" y="289.25" width="6.72" height="6.72"/>
<rect x="346.14" y="289.25" width="6.72" height="6.72"/>
<rect x="352.86" y="289.25" width="6.72" height="6.72"/>
<rect x="359.58" y="289.25" width="6.72" height="6.72"/>
<rect x="366.31" y="289.25" width="6.72" height="6.72"/>
<rect x="373.03" y="289.25" width="6.72" height="6.72"/>
<rect x="379.75" y="289.25" width="6.72" height="6.72"/>
<rect x="131.00" y="295.97" width="6.72" height="6.72"/>
<rect x="137.72" y="295.97" width="6.72" height="6.72"/>
<rect x="144.45" y="295.97" width="6.72" height="6.72"/>
<rect x="151.17" y="295.97" width="6.72" height="6.72"/>
<rect x="157.89" y="295.97" width="6.72" height="6.72"/>
<rect x="164.62" y="295.97" width="6.72" height="6.72"/>
<rect x="171.34" y="295.97" width="6.72" height="6.72"/>
<rect x="178.06" y="295.97" width="6.72" height="6.72"/>
<rect x="184.78" y="295.97" width="6.72" height="6.72"/>
<rect x="191.51" y="295.97" width="6.72" height="6.72"/>
<rect x="198.23" y="295.97" width="6.72" height="6.72"/>
<rect x="204.95" y="295.97" width="6.72" height="6.72"/>
<rect x="211.68" y="295.97" width="6.72" height="6.72"/>
<rect x="218.40" y="295.97" width="6.72" height="6.72"/>
<rect x="225.12" y="295.97" width="6.72" height="6.72"/>
<rect x="231.84" y="295.97" width="6.72" height="6.72"/>
<rect x="238.57" y="295.97" width="6.72" height="6.72"/>
<rect x="245.29" y="295.97" width="6.72" height="6.72"/>
<rect x="252.01" y="295.97" width="6.72" height="6.72"/>
<rect x="258.74" y="295.97" width="6.72" height="6.72"/>
<rect x="265.46" y="295.97" width="6.72" height="6.72"/>
<rect x="272.18" y="295.97" width="6.72" height="6.72"/>
<rect x="278.91" y="295.97" width="6.72" height="6.72"/>
<rect x="285.63" y="295.97" width="6.72" height="6.72"/>
<rect x="292.35" y="295.97" width="6.72" height="6.72"/>
<rect x="299.07" y="295.97" width="6.72" height="6.72"/>
<rect x="305.80" y="295.97" width="6.72" height="6.72"/>
<rect x="312.52" y="295.97" width="6.72" height="6.72"/>
<rect x="319.24" y="295.97" width="6.72" height="6.72"/>
<rect x="325.97" y="295.97" width="6.72" height="6.72"/>
<rect x="332.69" y="295.97" width="6.72" height="6.72"/>
<rect x="339.41" y="295.97" width="6.72" height="6.72"/>
<rect x="346.14" y="295.97" width="6.72" height="6.72"/>
<rect x="352.86" y="295.97" width="6.72" height="6.72"/>
<rect x="359.58" y="295.97" width="6.72" height="6.72"/>
<rect x="366.31" y="295.97" width="6.72" height="6.72"/>
<rect x="373.03" y="295.97" width="6.72" height="6.72"/>
<rect x="379.75" y="295.97" width="6.72" height="6.72"/>
<rect x="386.47" y="295.97" width="6.72" height="6.72"/>
<rect x="131.00" y="302.70" width="6.72" height="6.72"/>
<rect x="137.72" y="302.70" width="6.72" height="6.72"/>
<rect x="144.45" y="302.70" width="6.72" height="6.72"/>
<rect x="151.17" y="302.70" width="6.72" height="6.72"/>
<rect x="157.89" y="302.70" width="6.72" height="6.72"/>
<rect x="164.62" y="302.70" width="6.72" height="6.72"/>
<rect x="171.34" y="302.70" width="6.72" height="6.72"/>
<rect x="178.06" y="302.70" width="6.72" height="6.72"/>
<rect x="184.78" y="302.70" width="6.72" height="6.72"/>
<rect x="191.51" y="302.70" width="6.72" height="6.72"/>
<rect x="198.23" y="302.70" width="6.72" height="6.72"/>
<rect x="204.95" y="302.70" width="6.72" height="6.72"/>
<rect x="211.68" y="302.70" width="6.72" height="6.72"/>
<rect x="218.40" y="302.70" width="6.72" height="6.72"/>
<rect x="225.12" y="302.70" width="6.72" height="6.72"/>
<rect x="231.84" y="302.70" width="6.72" height="6.72"/>
<rect x="238.57" y="302.70" width="6.72" height="6.72"/>
<rect x="245.29" y="302.70" width="6.72" height="6.72"/>
<rect x="252.01" y="302.70" width="6.72" height="6.72"/>
<rect x="258.74" y="302.70" width="6.72" height="6.72"/>
<rect x="265.46" y="302.70" width="6.72" height="6.72"/>
<rect x="272.18" y="302.70" width="6.72" height="6.72"/>
<rect x="278.91" y="302.70" width="6.72" height="6.72"/>
<rect x="285.63" y="302.70" width="6.72" height="6.72"/>
<rect x="292.35" y="302.70" width="6.72" height="6.72"/>
<rect x="299.07" y="302.70" width="6.72" height="6.72"/>
<rect x="305.80" y="302.70" width="6.72" height="6.72"/>
<rect x="312.52" y="302.70" width="6.72" height="6.72"/>
<rect x="319.24" y="302.70" width="6.72" height="6.72"/>
<rect x="325.97" y="302.70" width="6.72" height="6.72"/>
<rect x="332.69" y="302.70" width="6.72" height="6.72"/>
<rect x="339.41" y="302.70" width="6.72" height="6.72"/>
<rect x="346.14" y="302.70" width="6.72" height="6.72"/>
<rect x="352.86" y="302.70" width="6.72" height="6.72"/>
<rect x="359.58" y="302.70" width="6.72" height="6.72"/>
<rect x="366.31" y="302.70" width="6.72" height="6.72"/>
<rect x="373.03" y="302.70" width="6.72" height="6.72"/>
<rect x="379.75" y="302.70" width="6.72" height="6.72"/>
<rect x="386.47" y="302.70" width="6.72" height="6.72"/>
<rect x="393.20" y="302.70" width="6.72" height="6.72"/>
<rect x="131.00" y="309.42" width="6.72" height="6.72"/>
<rect x="137.72" y="309.42" width="6.72" height="6.72"/>
<rect x="144.45" y="309.42" width="6.72" height="6.72"/>
<rect x="151.17" y="309.42" width="6.72" height="6.72"/>
<rect x="157.89" y="309.42" width="6.72" height="6.72"/>
<rect x="164.62" y="309.42" width="6.72" height="6.72"/>
<rect x="171.34" y="309.42" width="6.72" height="6.72"/>
<rect x="178.06" y="309.42" width="6.72" height="6.72"/>
<rect x="184.78" y="309.42" width="6.72" height="6.72"/>
<rect x="191.51" y="309.42" width="6.72" height="6.72"/>
<rect x="198.23" y="309.42" width="6.72" height="6.72"/>
<rect x="204.95" y="309.42" width="6.72" height="6.72"/>
<rect x="211.68" y="309.42" width="6.72" height="6.72"/>
<rect x="218.40" y="309.42" width="6.72" height="6.72"/>
<rect x="225.12" y="309.42" width="6.72" height="6.72"/>
<rect x="231.84" y="309.42" width="6.72" height="6.72"/>
<rect x="238.57" y="309.42" width="6.72" height="6.72"/>
<rect x="245.29" y="309.42" width="6.72" height="6.72"/>
<rect x="252.01" y="309.42" width="6.72" height="6.72"/>
<rect x="258.74" y="309.42" width="6.72" height="6.72"/>
<rect x="265.46" y="309.42" width="6.72" height="6.72"/>
<rect x="272.18" y="309.42" width="6.72" height="6.72"/>
<rect x="278.91" y="309.42" width="6.72" height="6.72"/>
<rect x="285.63" y="309.42" width="6.72" height="6.72"/>
<rect x="292.35" y="309.42" width="6.72" height="6.72"/>
<rect x="299.07" y="309.42" width="6.72" height="6.72"/>
<rect x="305.80" y="309.42" width="6.72" height="6.72"/>
<rect x="312.52" y="309.42" width="6.72" height="6.72"/>
<rect x="319.24" y="309.42" width="6.72" height="6.72"/>
<rect x="325.97" y="309.42" width="6.72" height="6.72"/>
<rect x="332.69" y="309.42" width="6.72" height="6.72"/>
<rect x="339.41" y="309.42" width="6.72" height="6.72"/>
<rect x="346.14" y="309.42" width="6.72" height="6.72"/>
<rect x="352.86" y="309.42" width="6.72" height="6.72"/>
<rect x="359.58" y="309.42" width="6.72" height="6.72"/>
<rect x="366.31" y="309.42" width="6.72" height="6.72"/>
<rect x="373.03" y="309.42" width="6.72" height="6.72"/>
<rect x="379.75" y="309.42" width="6.72" height="6.72"/>
<rect x="386.47" y="309.42" width="6.72" height="6.72"/>
<rect x="393.20" y="309.42" width="6.72" height="6.72"/>
<rect x="399.92" y="309.42" width="6.72" height="6.72"/>
<rect x="131.00" y="316.14" width="6.72" height="6.72"/>
<rect x="137.72" y="316.14" width="6.72" height="6.72"/>
<rect x="144.45" y="316.14" width="6.72" height="6.72"/>
<rect x="151.17" y="316.14" width="6.72" height="6.72"/>
<rect x="157.89" y="316.14" width="6.72" height="6.72"/>
<rect x="164.62" y="316.14" width="6.72" height="6.72"/>
<rect x="171.34" y="316.14" width="6.72" height="6.72"/>
<rect x="178.06" y="316.14" width="6.72" height="6.72"/>
<rect x="184.78" y="316.14" width="6.72" height="6.72"/>
<rect x="191.51" y="316.14" width="6.72" height="6.72"/>
<rect x="198.23" y="316.14" width="6.72" height="6.72"/>
<rect x="204.95" y="316.14" width="6.72" height="6.72"/>
<rect x="211.68" y="316.14" width="6.72" height="6.72"/>
<rect x="218.40" y="316.14" width="6.72" height="6.72"/>
<rect x="225.12" y="316.14" width="6.72" height="6.72"/>
<rect x="231.84" y="316.14" width="6.72" height="6.72"/>
<rect x="238.57" y="316.14" width="6.72" height="6.72"/>
<rect x="245.29" y="316.14" width="6.72" height="6.72"/>
<rect x="252.01" y="316.14" width="6.72" height="6.72"/>
<rect x="258.74" y="316.14" width="6.72" height="6.72"/>
<rect x="265.46" y="316.14" width="6.72" height="6.72"/>
<rect x="272.18" y="316.14" width="6.72" height="6.72"/>
<rect x="278.91" y="316.14" width="6.72" height="6.72"/>
<rect x="285.63" y="316.14" width="6.72" height="6.72"/>
<rect x="292.35" y="316.14" width="6.72" height="6.72"/>
<rect x="299.07" y="316.14" width="6.72" height="6.72"/>
<rect x="305.80" y="316.14" width="6.72" height="6.72"/>
<rect x="312.52" y="316.14" width="6.72" height="6.72"/>
<rect x="319.24" y="316.14" width="6.72" height="6.72"/>
<rect x="325.97" y="316.14" width="6.72" height="6.72"/>
<rect x="332.69" y="316.14" width="6.72" height="6.72"/>
<rect x="339.41" y="316.14" width="6.72" height="6.72"/>
<rect x="346.14" y="316.14" width="6.72" height="6.72"/>
<rect x="352.86" y="316.14" width="6.72" height="6.72"/>
<rect x="359.58" y="316.14" width="6.72" height="6.72"/>
<rect x="366.31" y="316.14" width="6.72" height="6.72"/>
<rect x="373.03" y="316.14" width="6.72" height="6.72"/>
<rect x="379.75" y="316.14" width="6.72" height="6.72"/>
<rect x="386.47" y="316.14" width="6.72" height="6.72"/>
<rect x="393.20" y="316.14" width="6.72" height="6.72"/>
<rect x="399.92" y="316.14" width="6.72" height="6.72"/>
<rect x="406.64" y="316.14" width="6.72" height="6.72"/>
<rect x="131.00" y="322.87" width="6.72" height="6.72"/>
<rect x="137.72" y="322.87" width="6.72" height="6.72"/>
<rect x="144.45" y="322.87" width="6.72" height="6.72"/>
<rect x="151.17" y="322.87" width="6.72" height="6.72"/>
<rect x="157.89" y="322.87" width="6.72" height="6.72"/>
<rect x="164.62" y="322.87" width="6.72" height="6.72"/>
<rect x="171.34" y="322.87" width="6.72" height="6.72"/>
<rect x="178.06" y="322.87" width="6.72" height="6.72"/>
<rect x="184.78" y="322.87" width="6.72" height="6.72"/>
<rect x="191.51" y="322.87" width="6.72" height="6.72"/>
<rect x="198.23" y="322.87" width="6.72" height="6.72"/>
<rect x="204.95" y="322.87" width="6.72" height="6.72"/>
<rect x="211.68" y="322.87" width="6.72" height="6.72"/>
<rect x="218.40" y="322.87" width="6.72" height="6.72"/>
<rect x="225.12" y="322.87" width="6.72" height="6.72"/>
<rect x="231.84" y="322.87" width="6.72" height="6.72"/>
<rect x="238.57" y="322.87" width="6.72" height="6.72"/>
<rect x="245.29" y="322.87" width="6.72" height="6.72"/>
<rect x="252.01" y="322.87" width="6.72" height="6.72"/>
<rect x="258.74" y="322.87" width="6.72" height="6.72"/>
<rect x="265.46" y="322.87" width="6.72" height="6.72"/>
<rect x="272.18" y="322.87" width="6.72" height="6.72"/>
<rect x="278.91" y="322.87" width="6.72" height="6.72"/>
<rect x="285.63" y="322.87" width="6.72" height="6.72"/>
<rect x="292.35" y="322.87" width="6.72" height="6.72"/>
<rect x="299.07" y="322.87" width="6.72" height="6.72"/>
<rect x="305.80" y="322.87" width="6.72" height="6.72"/>
<rect x="312.52" y="322.87" width="6.72" height="6.72"/>
<rect x="319.24" y="322.87" width="6.72" height="6.72"/>
<rect x="325.97" y="322.87" width="6.72" height="6.72"/>
<rect x="332.69" y="322.87" width="6.72" height="6.72"/>
<rect x="339.41" y="322.87" width="6.72" height="6.72"/>
<rect x="346.14" y="322.87" width="6.72" height="6.72"/>
<rect x="352.86" y="322.87" width="6.72" height="6.72"/>
<rect x="359.58" y="322.87" width="6.72" height="6.72"/>
<rect x="366.31" y="322.87" width="6.72" height="6.72"/>
<rect x="373.03" y="322.87" width="6.72" height="6.72"/>
<rect x="379.75" y="322.87" width="6.72" height="6.72"/>
<rect x="386.47" y="322.87" width="6.72" height="6.72"/>
<rect x="393.20" y="322.87" width="6.72" height="6.72"/>
<rect x="399.92" y="322.87" width="6.72" height="6.72"/>
<rect x="406.64" y="322.87" width="6.72" height="6.72"/>
<rect x="413.37" y="322.87" width="6.72" height="6.72"/>
<rect x="131.00" y="329.59" width="6.72" height="6.72"/>
<rect x="137.72" y="329.59" width="6.72" height="6.72"/>
<rect x="144.45" y="329.59" width="6.72" height="6.72"/>
<rect x="151.17" y="329.59" width="6.72" height="6.72"/>
<rect x="157.89" y="329.59" width="6.72" height="6.72"/>
<rect x="164.62" y="329.59" width="6.72" height="6.72"/>
<rect x="171.34" y="329.59" width="6.72" height="6.72"/>
<rect x="178.06" y="329.59" width="6.72" height="6.72"/>
<rect x="184.78" y="329.59" width="6.72" height="6.72"/>
<rect x="191.51" y="329.59" width="6.72" height="6.72"/>
<rect x="198.23" y="329.59" width="6.72" height="6.72"/>
<rect x="204.95" y="329.59" width="6.72" height="6.72"/>
<rect x="211.68" y="329.59" width="6.72" height="6.72"/>
<rect x="218.40" y="329.59" width="6.72" height="6.72"/>
<rect x="225.12" y="329.59" width="6.72" height="6.72"/>
<rect x="231.84" y="329.59" width="6.72" height="6.72"/>
<rect x="238.57" y="329.59" width="6.72" height="6.72"/>
<rect x="245.29" y="329.59" width="6.72" height="6.72"/>
<rect x="252.01" y="329.59" width="6.72" height="6.72"/>
<rect x="258.74" y="329.59" width="6.72" height="6.72"/>
<rect x="265.46" y="329.59" width="6.72" height="6.72"/>
<rect x="272.18" y="329.59" width="6.72" height="6.72"/>
<rect x="278.91" y="329.59" width="6.72" height="6.72"/>
<rect x="285.63" y="329.59" width="6.72" height="6.72"/>
<rect x="292.35" y="329.59" width="6.72" height="6.72"/>
<rect x="299.07" y="329.59" width="6.72" height="6.72"/>
<rect x="305.80" y="329.59" width="6.72" height="6.72"/>
<rect x="312.52" y="329.59" width="6.72" height="6.72"/>
<rect x="319.24" y="329.59" width="6.72" height="6.72"/>
<rect x="325.97" y="329.59" width="6.72" height="6.72"/>
<rect x="332.69" y="329.59" width="6.72" height="6.72"/>
<rect x="339.41" y="329.59" width="6.72" height="6.72"/>
<rect x="346.14" y="329.59" width="6.72" height="6.72"/>
<rect x="352.86" y="329.59" width="6.72" height="6.72"/>
<rect x="359.58" y="329.59" width="6.72" height="6.72"/>
<rect x="366.31" y="329.59" width="6.72" height="6.72"/>
<rect x="373.03" y="329.59" width="6.72" height="6.72"/>
<rect x="379.75" y="329.59" width="6.72" height="6.72"/>
<rect x="386.47" y="329.59" width="6.72" height="6.72"/>
<rect x="393.20" y="329.59" width="6.72" height="6.72"/>
<rect x="399.92" y="329.59" width="6.72" height="6.72"/>
<rect x="406.64" y="329.59" width="6.72" height="6.72"/>
<rect x="413.37" y="329.59" width="6.72" height="6.72"/>
<rect x="420.09" y="329.59" width="6.72" height="6.72"/>
<rect x="131.00" y="336.31" width="6.72" height="6.72"/>
<rect x="137.72" y="336.31" width="6.72" height="6.72"/>
<rect x="144.45" y="336.31" width="6.72" height="6.72"/>
<rect x="151.17" y="336.31" width="6.72" height="6.72"/>
<rect x="157.89" y="336.31" width="6.72" height="6.72"/>
<rect x="164.62" y="336.31" width="6.72" height="6.72"/>
<rect x="171.34" y="336.31" width="6.72" height="6.72"/>
<rect x="178.06" y="336.31" width="6.72" height="6.72"/>
<rect x="184.78" y="336.31" width="6.72" height="6.72"/>
<rect x="191.51" y="336.31" width="6.72" height="6.72"/>
<rect x="198.23" y="336.31" width="6.72" height="6.72"/>
<rect x="204.95" y="336.31" width="6.72" height="6.72"/>
<rect x="211.68" y="336.31" width="6.72" height="6.72"/>
<rect x="218.40" y="336.31" width="6.72" height="6.72"/>
<rect x="225.12" y="336.31" width="6.72" height="6.72"/>
<rect x="231.84" y="336.31" width="6.72" height="6.72"/>
<rect x="238.57" y="336.31" width="6.72" height="6.72"/>
<rect x="245.29" y="336.31" width="6.72" height="6.72"/>
<rect x="252.01" y="336.31" width="6.72" height="6.72"/>
<rect x="258.74" y="336.31" width="6.72" height="6.72"/>
<rect x="265.46" y="336.31" width="6.72" height="6.72"/>
<rect x="272.18" y="336.31" width="6.72" height="6.72"/>
<rect x="278.91" y="336.31" width="6.72" height="6.72"/>
<rect x="285.63" y="336.31" width="6.72" height="6.72"/>
<rect x="292.35" y="336.31" width="6.72" height="6.72"/>
<rect x="299.07" y="336.31" width="6.72" height="6.72"/>
<rect x="305.80" y="336.31" width="6.72" height="6.72"/>
<rect x="312.52" y="336.31" width="6.72" height="6.72"/>
<rect x="319.24" y="336.31" width="6.72" height="6.72"/>
<rect x="325.97" y="336.31" width="6.72" height="6.72"/>
<rect x="332.69" y="336.31" width="6.72" height="6.72"/>
<rect x="339.41" y="336.31" width="6.72" height="6.72"/>
<rect x="346.14" y="336.31" width="6.72" height="6.72"/>
<rect x="352.86" y="336.31" width="6.72" height="6.72"/>
<rect x="359.58" y="336.31" width="6.72" height="6.72"/>
<rect x="366.31" y="336.31" width="6.72" height="6.72"/>
<rect x="373.03" y="336.31" width="6.72" height="6.72"/>
<rect x="379.75" y="336.31" width="6.72" height="6.72"/>
<rect x="386.47" y="336.31" width="6.72" height="6.72"/>
<rect x="393.20" y="336.31" width="6.72" height="6.72"/>
<rect x="399.92" y="336.31" width="6.72" height="6.72"/>
<rect x="406.64" y="336.31" width="6.72" height="6.72"/>
<rect x="413.37" y="336.31" width="6.72" height="6.72"/>
<rect x="420.09" y="336.31" width="6.72" height="6.72"/>
<rect x="426.81" y="336.31" width="6.72" height="6.72"/>
<rect x="131.00" y="343.03" width="6.72" height="6.72"/>
<rect x="137.72" y="343.03" width="6.72" height="6.72"/>
<rect x="144.45" y="343.03" width="6.72" height="6.72"/>
<rect x="151.17" y="343.03" width="6.72" height="6.72"/>
<rect x="157.89" y="343.03" width="6.72" height="6.72"/>
<rect x="164.62" y="343.03" width="6.72" height="6.72"/>
<rect x="171.34" y="343.03" width="6.72" height="6.72"/>
<rect x="178.06" y="343.03" width="6.72" height="6.72"/>
<rect x="184.78" y="343.03" width="6.72" height="6.72"/>
<rect x="191.51" y="343.03" width="6.72" height="6.72"/>
<rect x="198.23" y="343.03" width="6.72" height="6.72"/>
<rect x="204.95" y="343.03" width="6.72" height="6.72"/>
<rect x="211.68" y="343.03" width="6.72" height="6.72"/>
<rect x="218.40" y="343.03" width="6.72" height="6.72"/>
<rect x="225.12" y="343.03" width="6.72" height="6.72"/>
<rect x="231.84" y="343.03" width="6.72" height="6.72"/>
<rect x="238.57" y="343.03" width="6.72" height="6.72"/>
<rect x="245.29" y="343.03" width="6.72" height="6.72"/>
<rect x="252.01" y="343.03" width="6.72" height="6.72"/>
<rect x="258.74" y="343.03" width="6.72" height="6.72"/>
<rect x="265.46" y="343.03" width="6.72" height="6.72"/>
<rect x="272.18" y="343.03" width="6.72" height="6.72"/>
<rect x="278.91" y="343.03" width="6.72" height="6.72"/>
<rect x="285.63" y="343.03" width="6.72" height="6.72"/>
<rect x="292.35" y="343.03" width="6.72" height="6.72"/>
<rect x="299.07" y="343.03" width="6.72" height="6.72"/>
<rect x="305.80" y="343.03" width="6.72" height="6.72"/>
<rect x="312.52" y="343.03" width="6.72" height="6.72"/>
<rect x="319.24" y="343.03" width="6.72" height="6.72"/>
<rect x="325.97" y="343.03" width="6.72" height="6.72"/>
<rect x="332.69" y="343.03" width="6.72" height="6.72"/>
<rect x="339.41" y="343.03" width="6.72" height="6.72"/>
<rect x="346.14" y="343.03" width="6.72" height="6.72"/>
<rect x="352.86" y="343.03" width="6.72" height="6.72"/>
<rect x="359.58" y="343.03" width="6.72" height="6.72"/>
<rect x="366.31" y="343.03" width="6.72" height="6.72"/>
<rect x="373.03" y="343.03" width="6.72" height="6.72"/>
<rect x="379.75" y="343.03" width="6.72" height="6.72"/>
<rect x="386.47" y="343.03" width="6.72" height="6.72"/>
<rect x="393.20" y="343.03" width="6.72" height="6.72"/>
<rect x="399.92" y="343.03" width="6.72" height="6.72"/>
<rect x="406.64" y="343.03" width="6.72" height="6.72"/>
<rect x="413.37" y="343.03" width="6.72" height="6.72"/>
<rect x="420.09" y="343.03" width="6.72" height="6.72"/>
<rect x="426.81" y="343.03" width="6.72" height="6.72"/>
<rect x="433.53" y="343.03" width="6.72" height="6.72"/>
<rect x="131.00" y="349.76" width="6.72" height="6.72"/>
<rect x="137.72" y="349.76" width="6.72" height="6.72"/>
<rect x="144.45" y="349.76" width="6.72" height="6.72"/>
<rect x="151.17" y="349.76" width="6.72" height="6.72"/>
<rect x="157.89" y="349.76" width="6.72" height="6.72"/>
<rect x="164.62" y="349.76" width="6.72" height="6.72"/>
<rect x="171.34" y="349.76" width="6.72" height="6.72"/>
<rect x="178.06" y="349.76" width="6.72" height="6.72"/>
<rect x="184.78" y="349.76" width="6.72" height="6.72"/>
<rect x="191.51" y="349.76" width="6.72" height="6.72"/>
<rect x="198.23" y="349.76" width="6.72" height="6.72"/>
<rect x="204.95" y="349.76" width="6.72" height="6.72"/>
<rect x="211.68" y="349.76" width="6.72" height="6.72"/>
<rect x="218.40" y="349.76" width="6.72" height="6.72"/>
<rect x="225.12" y="349.76" width="6.72" height="6.72"/>
<rect x="231.84" y="349.76" width="6.72" height="6.72"/>
<rect x="238.57" y="349.76" width="6.72" height="6.72"/>
<rect x="245.29" y="349.76" width="6.72" height="6.72"/>
<rect x="252.01" y="349.76" width="6.72" height="6.72"/>
<rect x="258.74" y="349.76" width="6.72" height="6.72"/>
<rect x="265.46" y="349.76" width="6.72" height="6.72"/>
<rect x="272.18" y="349.76" width="6.72" height="6.72"/>
<rect x="278.91" y="349.76" width="6.72" height="6.72"/>
<rect x="285.63" y="349.76" width="6.72" height="6.72"/>
<rect x="292.35" y="349.76" width="6.72" height="6.72"/>
<rect x="299.07" y="349.76" width="6.72" height="6.72"/>
<rect x="305.80" y="349.76" width="6.72" height="6.72"/>
<rect x="312.52" y="349.76" width="6.72" height="6.72"/>
<rect x="319.24" y="349.76" width="6.72" height="6.72"/>
<rect x="325.97" y="349.76" width="6.72" height="6.72"/>
<rect x="332.69" y="349.76" width="6.72" height="6.72"/>
<rect x="339.41" y="349.76" width="6.72" height="6.72"/>
<rect x="346.14" y="349.76" width="6.72" height="6.72"/>
<rect x="352.86" y="349.76" width="6.72" height="6.72"/>
<rect x="359.58" y="349.76" width="6.72" height="6.72"/>
<rect x="366.31" y="349.76" width="6.72" height="6.72"/>
<rect x="373.03" y="349.76" width="6.72" height="6.72"/>
<rect x="379.75" y="349.76" width="6.72" height="6.72"/>
<rect x="386.47" y="349.76" width="6.72" height="6.72"/>
<rect x="393.20" y="349.76" width="6.72" height="6.72"/>
<rect x="399.92" y="349.76" width="6.72" height="6.72"/>
<rect x="406.64" y="349.76" width="6.72" height="6.72"/>
<rect x="413.37" y="349.76" width="6.72" height="6.72"/>
<rect x="420.09" y="349.76" width="6.72" height="6.72"/>
<rect x="426.81" y="349.76" width="6.72" height="6.72"/>
<rect x="433.53" y="349.76" width="6.72" height="6.72"/>
<rect x="440.26" y="349.76" width="6.72" height="6.72"/>
<rect x="131.00" y="356.48" width="6.72" height="6.72"/>
<rect x="137.72" y="356.48" width="6.72" height="6.72"/>
<rect x="144.45" y="356.48" width="6.72" height="6.72"/>
<rect x="151.17" y="356.48" width="6.72" height="6.72"/>
<rect x="157.89" y="356.48" width="6.72" height="6.72"/>
<rect x="164.62" y="356.48" width="6.72" height="6.72"/>
<rect x="171.34" y="356.48" width="6.72" height="6.72"/>
<rect x="178.06" y="356.48" width="6.72" height="6.72"/>
<rect x="184.78" y="356.48" width="6.72" height="6.72"/>
<rect x="191.51" y="356.48" width="6.72" height="6.72"/>
<rect x="198.23" y="356.48" width="6.72" height="6.72"/>
<rect x="204.95" y="356.48" width="6.72" height="6.72"/>
<rect x="211.68" y="356.48" width="6.72" height="6.72"/>
<rect x="218.40" y="356.48" width="6.72" height="6.72"/>
<rect x="225.12" y="356.48" width="6.72" height="6.72"/>
<rect x="231.84" y="356.48" width="6.72" height="6.72"/>
<rect x="238.57" y="356.48" width="6.72" height="6.72"/>
<rect x="245.29" y="356.48" width="6.72" height="6.72"/>
<rect x="252.01" y="356.48" width="6.72" height="6.72"/>
<rect x="258.74" y="356.48" width="6.72" height="6.72"/>
<rect x="265.46" y="356.48" width="6.72" height="6.72"/>
<rect x="272.18" y="356.48" width="6.72" height="6.72"/>
<rect x="278.91" y="356.48" width="6.72" height="6.72"/>
<rect x="285.63" y="356.48" width="6.72" height="6.72"/>
<rect x="292.35" y="356.48" width="6.72" height="6.72"/>
<rect x="299.07" y="356.48" width="6.72" height="6.72"/>
<rect x="305.80" y="356.48" width="6.72" height="6.72"/>
<rect x="312.52" y="356.48" width="6.72" height="6.72"/>
<rect x="319.24" y="356.48" width="6.72" height="6.72"/>
<rect x="325.97" y="356.48" width="6.72" height="6.72"/>
<rect x="332.69" y="356.48" width="6.72" height="6.72"/>
<rect x="339.41" y="356.48" width="6.72" height="6.72"/>
<rect x="346.14" y="356.48" width="6.72" height="6.72"/>
<rect x="352.86" y="356.48" width="6.72" height="6.72"/>
<rect x="359.58" y="356.48" width="6.72" height="6.72"/>
<rect x="366.31" y="356.48" width="6.72" height="6.72"/>
<rect x="373.03" y="356.48" width="6.72" height="6.72"/>
<rect x="379.75" y="356.48" width="6.72" height="6.72"/>
<rect x="386.47" y="356.48" width="6.72" height="6.72"/>
<rect x="393.20" y="356.48" width="6.72" height="6.72"/>
<rect x="399.92" y="356.48" width="6.72" height="6.72"/>
<rect x="406.64" y="356.48" width="6.72" height="6.72"/>
<rect x="413.37" y="356.48" width="6.72" height="6.72"/>
<rect x="420.09" y="356.48" width="6.72" height="6.72"/>
<rect x="426.81" y="356.48" width="6.72" height="6.72"/>
<rect x="433.53" y="356.48" width="6.72" height="6.72"/>
<rect x="440.26" y="356.48" width="6.72" height="6.72"/>
<rect x="446.98" y="356.48" width="6.72" height="6.72"/>
<rect x="131.00" y="363.20" width="6.72" height="6.72"/>
<rect x="137.72" y="363.20" width="6.72" height="6.72"/>
<rect x="144.45" y="363.20" width="6.72" height="6.72"/>
<rect x="151.17" y="363.20" width="6.72" height="6.72"/>
<rect x="157.89" y="363.20" width="6.72" height="6.72"/>
<rect x="164.62" y="363.20" width="6.72" height="6.72"/>
<rect x="171.34" y="363.20" width="6.72" height="6.72"/>
<rect x="178.06" y="363.20" width="6.72" height="6.72"/>
<rect x="184.78" y="363.20" width="6.72" height="6.72"/>
<rect x="191.51" y="363.20" width="6.72" height="6.72"/>
<rect x="198.23" y="363.20" width="6.72" height="6.72"/>
<rect x="204.95" y="363.20" width="6.72" height="6.72"/>
<rect x="211.68" y="363.20" width="6.72" height="6.72"/>
<rect x="218.40" y="363.20" width="6.72" height="6.72"/>
<rect x="225.12" y="363.20" width="6.72" height="6.72"/>
<rect x="231.84" y="363.20" width="6.72" height="6.72"/>
<rect x="238.57" y="363.20" width="6.72" height="6.72"/>
<rect x="245.29" y="363.20" width="6.72" height="6.72"/>
<rect x="252.01" y="363.20" width="6.72" height="6.72"/>
<rect x="258.74" y="363.20" width="6.72" height="6.72"/>
<rect x="265.46" y="363.20" width="6.72" height="6.72"/>
<rect x="272.18" y="363.20" width="6.72" height="6.72"/>
<rect x="278.91" y="363.20" width="6.72" height="6.72"/>
<rect x="285.63" y="363.20" width="6.72" height="6.72"/>
<rect x="292.35" y="363.20" width="6.72" height="6.72"/>
<rect x="299.07" y="363.20" width="6.72" height="6.72"/>
<rect x="305.80" y="363.20" width="6.72" height="6.72"/>
<rect x="312.52" y="363.20" width="6.72" height="6.72"/>
<rect x="319.24" y="363.20" width="6.72" height="6.72"/>
<rect x="325.97" y="363.20" width="6.72" height="6.72"/>
<rect x="332.69" y="363.20" width="6.72" height="6.72"/>
<rect x="339.41" y="363.20" width="6.72" height="6.72"/>
<rect x="346.14" y="363.20" width="6.72" height="6.72"/>
<rect x="352.86" y="363.20" width="6.72" height="6.72"/>
<rect x="359.58" y="363.20" width="6.72" height="6.72"/>
<rect x="366.31" y="363.20" width="6.72" height="6.72"/>
<rect x="373.03" y="363.20" width="6.72" height="6.72"/>
<rect x="379.75" y="363.20" width="6.72" height="6.72"/>
<rect x="386.47" y="363.20" width="6.72" height="6.72"/>
<rect x="393.20" y="363.20" width="6.72" height="6.72"/>
<rect x="399.92" y="363.20" width="6.72" height="6.72"/>
<rect x="406.64" y="363.20" width="6.72" height="6.72"/>
<rect x="413.37" y="363.20" width="6.72" height="6.72"/>
<rect x="420.09" y="363.20" width="6.72" height="6.72"/>
<rect x="426.81" y="363.20" width="6.72" height="6.72"/>
<rect x="433.53" y="363.20" width="6.72" height="6.72"/>
<rect x="440.26" y="363.20" width="6.72" height="6.72"/>
<rect x="446.98" y="363.20" width="6.72" height="6.72"/>
<rect x="453.70" y="363.20" width="6.72" height="6.72"/>
<rect x="131.00" y="369.93" width="6.72" height="6.72"/>
<rect x="137.72" y="369.93" width="6.72" height="6.72"/>
<rect x="144.45" y="369.93" width="6.72" height="6.72"/>
<rect x="151.17" y="369.93" width="6.72" height="6.72"/>
<rect x="157.89" y="369.93" width="6.72" height="6.72"/>
<rect x="164.62" y="369.93" width="6.72" height="6.72"/>
<rect x="171.34" y="369.93" width="6.72" height="6.72"/>
<rect x="178.06" y="369.93" width="6.72" height="6.72"/>
<rect x="184.78" y="369.93" width="6.72" height="6.72"/>
<rect x="191.51" y="369.93" width="6.72" height="6.72"/>
<rect x="198.23" y="369.93" width="6.72" height="6.72"/>
<rect x="204.95" y="369.93" width="6.72" height="6.72"/>
<rect x="211.68" y="369.93" width="6.72" height="6.72"/>
<rect x="218.40" y="369.93" width="6.72" height="6.72"/>
<rect x="225.12" y="369.93" width="6.72" height="6.72"/>
<rect x="231.84" y="369.93" width="6.72" height="6.72"/>
<rect x="238.57" y="369.93" width="6.72" height="6.72"/>
<rect x="245.29" y="369.93" width="6.72" height="6.72"/>
<rect x="252.01" y="369.93" width="6.72" height="6.72"/>
<rect x="258.74" y="369.93" width="6.72" height="6.72"/>
<rect x="265.46" y="369.93" width="6.72" height="6.72"/>
<rect x="272.18" y="369.93" width="6.72" height="6.72"/>
<rect x="278.91" y="369.93" width="6.72" height="6.72"/>
<rect x="285.63" y="369.93" width="6.72" height="6.72"/>
<rect x="292.35" y="369.93" width="6.72" height="6.72"/>
<rect x="299.07" y="369.93" width="6.72" height="6.72"/>
<rect x="305.80" y="369.93" width="6.72" height="6.72"/>
<rect x="312.52" y="369.93" width="6.72" height="6.72"/>
<rect x="319.24" y="369.93" width="6.72" height="6.72"/>
<rect x="325.97" y="369.93" width="6.72" height="6.72"/>
<rect x="332.69" y="369.93" width="6.72" height="6.72"/>
<rect x="339.41" y="369.93" width="6.72" height="6.72"/>
<rect x="346.14" y="369.93" width="6.72" height="6.72"/>
<rect x="352.86" y="369.93" width="6.72" height="6.72"/>
<rect x="359.58" y="369.93" width="6.72" height="6.72"/>
<rect x="366.31" y="369.93" width="6.72" height="6.72"/>
<rect x="373.03" y="369.93" width="6.72" height="6.72"/>
<rect x="379.75" y="369.93" width="6.72" height="6.72"/>
<rect x="386.47" y="369.93" width="6.72" height="6.72"/>
<rect x="393.20" y="369.93" width="6.72" height="6.72"/>
<rect x="399.92" y="369.93" width="6.72" height="6.72"/>
<rect x="406.64" y="369.93" width="6.72" height="6.72"/>
<rect x="413.37" y="369.93" width="6.72" height="6.72"/>
<rect x="420.09" y="369.93" width="6.72" height="6.72"/>
<rect x="426.81" y="369.93" width="6.72" height="6.72"/>
<rect x="433.53" y="369.93" width="6.72" height="6.72"/>
<rect x="440.26" y="369.93" width="6.72" height="6.72"/>
<rect x="446.98" y="369.93" width="6.72" height="6.72"/>
<rect x="453.70" y="369.93" width="6.72" height="6.72"/>
<rect x="460.43" y="369.93" width="6.72" height="6.72"/>
<rect x="131.00" y="376.65" width="6.72" height="6.72"/>
<rect x="137.72" y="376.65" width="6.72" height="6.72"/>
<rect x="144.45" y="376.65" width="6.72" height="6.72"/>
<rect x="151.17" y="376.65" width="6.72" height="6.72"/>
<rect x="157.89" y="376.65" width="6.72" height="6.72"/>
<rect x="164.62" y="376.65" width="6.72" height="6.72"/>
<rect x="171.34" y="376.65" width="6.72" height="6.72"/>
<rect x="178.06" y="376.65" width="6.72" height="6.72"/>
<rect x="184.78" y="376.65" width="6.72" height="6.72"/>
<rect x="191.51" y="376.65" width="6.72" height="6.72"/>
<rect x="198.23" y="376.65" width="6.72" height="6.72"/>
<rect x="204.95" y="376.65" width="6.72" height="6.72"/>
<rect x="211.68" y="376.65" width="6.72" height="6.72"/>
<rect x="218.40" y="376.65" width="6.72" height="6.72"/>
<rect x="225.12" y="376.65" width="6.72" height="6.72"/>
<rect x="231.84" y="376.65" width="6.72" height="6.72"/>
<rect x="238.57" y="376.65" width="6.72" height="6.72"/>
<rect x="245.29" y="376.65" width="6.72" height="6.72"/>
<rect x="252.01" y="376.65" width="6.72" height="6.72"/>
<rect x="258.74" y="376.65" width="6.72" height="6.72"/>
<rect x="265.46" y="376.65" width="6.72" height="6.72"/>
<rect x="272.18" y="376.65" width="6.72" height="6.72"/>
<rect x="278.91" y="376.65" width="6.72" height="6.72"/>
<rect x="285.63" y="376.65" width="6.72" height="6.72"/>
<rect x="292.35" y="376.65" width="6.72" height="6.72"/>
<rect x="299.07" y="376.65" width="6.72" height="6.72"/>
<rect x="305.80" y="376.65" width="6.72" height="6.72"/>
<rect x="312.52" y="376.65" width="6.72" height="6.72"/>
<rect x="319.24" y="376.65" width="6.72" height="6.72"/>
<rect x="325.97" y="376.65" width="6.72" height="6.72"/>
<rect x="332.69" y="376.65" width="6.72" height="6.72"/>
<rect x="339.41" y="376.65" width="6.72" height="6.72"/>
<rect x="346.14" y="376.65" width="6.72" height="6.72"/>
<rect x="352.86" y="376.65" width="6.72" height="6.72"/>
<rect x="359.58" y="376.65" width="6.72" height="6.72"/>
<rect x="366.31" y="376.65" width="6.72" height="6.72"/>
<rect x="373.03" y="376.65" width="6.72" height="6.72"/>
<rect x="379.75" y="376.65" width="6.72" height="6.72"/>
<rect x="386.47" y="376.65" width="6.72" height="6.72"/>
<rect x="393.20" y="376.65" width="6.72" height="6.72"/>
<rect x="399.92" y="376.65" width="6.72" height="6.72"/>
<rect x="406.64" y="376.65" width="6.72" height="6.72"/>
<rect x="413.37" y="376.65" width="6.72" height="6.72"/>
<rect x="420.09" y="376.65" width="6.72" height="6.72"/>
<rect x="426.81" y="376.65" width="6.72" height="6.72"/>
<rect x="433.53" y="376.65" width="6.72" height="6.72"/>
<rect x="440.26" y="376.65" width="6.72" height="6.72"/>
<rect x="446.98" y="376.65" width="6.72" height="6.72"/>
<rect x="453.70" y="376.65" width="6.72" height="6.72"/>
<rect x="460.43" y="376.65" width="6.72" height="6.72"/>
<rect x="467.15" y="376.65" width="6.72" height="6.72"/>
<rect x="131.00" y="383.37" width="6.72" height="6.72"/>
<rect x="137.72" y="383.37" width="6.72" height="6.72"/>
<rect x="144.45" y="383.37" width="6.72" height="6.72"/>
<rect x="151.17" y="383.37" width="6.72" height="6.72"/>
<rect x="157.89" y="383.37" width="6.72" height="6.72"/>
<rect x="164.62" y="383.37" width="6.72" height="6.72"/>
<rect x="171.34" y="383.37" width="6.72" height="6.72"/>
<rect x="178.06" y="383.37" width="6.72" height="6.72"/>
<rect x="184.78" y="383.37" width="6.72" height="6.72"/>
<rect x="191.51" y="383.37" width="6.72" height="6.72"/>
<rect x="198.23" y="383.37" width="6.72" height="6.72"/>
<rect x="204.95" y="383.37" width="6.72" height="6.72"/>
<rect x="211.68" y="383.37" width="6.72" height="6.72"/>
<rect x="218.40" y="383.37" width="6.72" height="6.72"/>
<rect x="225.12" y="383.37" width="6.72" height="6.72"/>
<rect x="231.84" y="383.37" width="6.72" height="6.72"/>
<rect x="238.57" y="383.37" width="6.72" height="6.72"/>
<rect x="245.29" y="383.37" width="6.72" height="6.72"/>
<rect x="252.01" y="383.37" width="6.72" height="6.72"/>
<rect x="258.74" y="383.37" width="6.72" height="6.72"/>
<rect x="265.46" y="383.37" width="6.72" height="6.72"/>
<rect x="272.18" y="383.37" width="6.72" height="6.72"/>
<rect x="278.91" y="383.37" width="6.72" height="6.72"/>
<rect x="285.63" y="383.37" width="6.72" height="6.72"/>
<rect x="292.35" y="383.37" width="6.72" height="6.72"/>
<rect x="299.07" y="383.37" width="6.72" height="6.72"/>
<rect x="305.80" y="383.37" width="6.72" height="6.72"/>
<rect x="312.52" y="383.37" width="6.72" height="6.72"/>
<rect x="319.24" y="383.37" width="6.72" height="6.72"/>
<rect x="325.97" y="383.37" width="6.72" height="6.72"/>
<rect x="332.69" y="383.37" width="6.72" height="6.72"/>
<rect x="339.41" y="383.37" width="6.72" height="6.72"/>
<rect x="346.14" y="383.37" width="6.72" height="6.72"/>
<rect x="352.86" y="383.37" width="6.72" height="6.72"/>
<rect x="359.58" y="383.37" width="6.72" height="6.72"/>
<rect x="366.31" y="383.37" width="6.72" height="6.72"/>
<rect x="373.03" y="383.37" width="6.72" height="6.72"/>
<rect x="379.75" y="383.37" width="6.72" height="6.72"/>
<rect x="386.47" y="383.37" width="6.72" height="6.72"/>
<rect x="393.20" y="383.37" width="6.72" height="6.72"/>
<rect x="399.92" y="383.37" width="6.72" height="6.72"/>
<rect x="406.64" y="383.37" width="6.72" height="6.72"/>
<rect x="413.37" y="383.37" width="6.72" height="6.72"/>
<rect x="420.09" y="383.37" width="6.72" height="6.72"/>
<rect x="426.81" y="383.37" width="6.72" height="6.72"/>
<rect x="433.53" y="383.37" width="6.72" height="6.72"/>
<rect x="440.26" y="383.37" width="6.72" height="6.72"/>
<rect x="446.98" y="383.37" width="6.72" height="6.72"/>
<rect x="453.70" y="383.37" width="6.72" height="6.72"/>
<rect x="460.43" y="383.37" width="6.72" height="6.72"/>
<rect x="467.15" y="383.37" width="6.72" height="6.72"/>
<rect x="473.87" y="383.37" width="6.72" height="6.72"/>
</g>
<rect x="131.40" y="47.62" width="5.92" height="5.92" fill="#f4d9dc"/>
<rect x="131.46" y="47.68" width="5.80" height="5.80" fill="#4a0816"/>
<rect x="131.40" y="54.35" width="5.92" height="5.92" fill="#fbe4e4"/>
<circle cx="134.36" cy="57.31" r="2.3" fill="#952d38"/>
<rect x="144.85" y="61.07" width="5.92" height="5.92" fill="#fbe4e4"/>
<circle cx="147.81" cy="64.03" r="2.3" fill="#952d38"/>
<rect x="165.02" y="81.24" width="5.92" height="5.92" fill="#ecf0f7"/>
<circle cx="167.98" cy="84.20" r="1.85" fill="#5f6e9a"/>
<rect x="131.40" y="87.96" width="5.92" height="5.92" fill="#f8eced"/>
<circle cx="134.36" cy="90.92" r="1.8" fill="#735760"/>
<rect x="138.12" y="87.96" width="5.92" height="5.92" fill="#f8eced"/>
<circle cx="141.08" cy="90.92" r="1.8" fill="#735760"/>
<rect x="144.85" y="87.96" width="5.92" height="5.92" fill="#f8eced"/>
<circle cx="147.81" cy="90.92" r="1.8" fill="#735760"/>
<rect x="131.40" y="94.68" width="5.92" height="5.92" fill="#e1e7f5"/>
<circle cx="134.36" cy="97.65" r="2.85" fill="#34499a"/>
<rect x="144.85" y="94.68" width="5.92" height="5.92" fill="#e7ecf6"/>
<circle cx="147.81" cy="97.65" r="2.3" fill="#4e64a2"/>
<rect x="178.46" y="94.68" width="5.92" height="5.92" fill="#e8f2f5"/>
<circle cx="181.42" cy="97.65" r="1.85" fill="#3f7590"/>
<rect x="131.40" y="101.41" width="5.92" height="5.92" fill="#e7ecf6"/>
<circle cx="134.36" cy="104.37" r="2.3" fill="#4e64a2"/>
<rect x="138.12" y="101.41" width="5.92" height="5.92" fill="#e7ecf6"/>
<circle cx="141.08" cy="104.37" r="2.3" fill="#4e64a2"/>
<rect x="144.85" y="101.41" width="5.92" height="5.92" fill="#e7ecf6"/>
<circle cx="147.81" cy="104.37" r="2.3" fill="#4e64a2"/>
<rect x="151.57" y="101.41" width="5.92" height="5.92" fill="#e1e7f5"/>
<circle cx="154.53" cy="104.37" r="2.85" fill="#34499a"/>
<rect x="178.46" y="101.41" width="5.92" height="5.92" fill="#ecf0f7"/>
<circle cx="181.42" cy="104.37" r="1.85" fill="#5f6e9a"/>
<rect x="185.18" y="101.41" width="5.92" height="5.92" fill="#fbe4e4"/>
<circle cx="188.15" cy="104.37" r="2.3" fill="#952d38"/>
<rect x="131.40" y="108.13" width="5.92" height="5.92" fill="#e7ecf6"/>
<circle cx="134.36" cy="111.09" r="2.3" fill="#4e64a2"/>
<rect x="191.91" y="108.13" width="5.92" height="5.92" fill="#fbe4e4"/>
<circle cx="194.87" cy="111.09" r="2.3" fill="#952d38"/>
<rect x="131.40" y="114.85" width="5.92" height="5.92" fill="#e7ecf6"/>
<circle cx="134.36" cy="117.81" r="2.3" fill="#4e64a2"/>
<rect x="185.18" y="114.85" width="5.92" height="5.92" fill="#fbe4e4"/>
<circle cx="188.15" cy="117.81" r="2.3" fill="#952d38"/>
<rect x="191.91" y="114.85" width="5.92" height="5.92" fill="#f9dede"/>
<circle cx="194.87" cy="117.81" r="2.85" fill="#821826"/>
<rect x="131.40" y="121.58" width="5.92" height="5.92" fill="#ecf0f7"/>
<circle cx="134.36" cy="124.54" r="1.85" fill="#5f6e9a"/>
<rect x="131.40" y="128.30" width="5.92" height="5.92" fill="#e7ecf6"/>
<circle cx="134.36" cy="131.26" r="2.3" fill="#4e64a2"/>
<rect x="212.08" y="128.30" width="5.92" height="5.92" fill="#fbe4e4"/>
<circle cx="215.04" cy="131.26" r="2.3" fill="#952d38"/>
<rect x="131.40" y="141.75" width="5.92" height="5.92" fill="#ecf0f7"/>
<circle cx="134.36" cy="144.71" r="1.85" fill="#5f6e9a"/>
<rect x="138.12" y="141.75" width="5.92" height="5.92" fill="#ecf0f7"/>
<circle cx="141.08" cy="144.71" r="1.85" fill="#5f6e9a"/>
<rect x="218.80" y="141.75" width="5.92" height="5.92" fill="#fbe4e4"/>
<circle cx="221.76" cy="144.71" r="2.3" fill="#952d38"/>
<rect x="131.40" y="148.47" width="5.92" height="5.92" fill="#ecf0f7"/>
<circle cx="134.36" cy="151.43" r="1.85" fill="#5f6e9a"/>
<rect x="185.18" y="148.47" width="5.92" height="5.92" fill="#fbe8e8"/>
<circle cx="188.15" cy="151.43" r="1.85" fill="#7e3640"/>
<rect x="212.08" y="155.19" width="5.92" height="5.92" fill="#f9dede"/>
<circle cx="215.04" cy="158.15" r="2.85" fill="#821826"/>
<rect x="225.52" y="155.19" width="5.92" height="5.92" fill="#fbe4e4"/>
<circle cx="228.48" cy="158.15" r="2.3" fill="#952d38"/>
<rect x="232.25" y="155.19" width="5.92" height="5.92" fill="#fbe4e4"/>
<circle cx="235.21" cy="158.15" r="2.3" fill="#952d38"/>
<rect x="131.40" y="161.91" width="5.92" height="5.92" fill="#ecf0f7"/>
<circle cx="134.36" cy="164.88" r="1.85" fill="#5f6e9a"/>
<rect x="212.08" y="161.91" width="5.92" height="5.92" fill="#f9dede"/>
<circle cx="215.04" cy="164.88" r="2.85" fill="#821826"/>
<rect x="218.80" y="161.91" width="5.92" height="5.92" fill="#fbe4e4"/>
<circle cx="221.76" cy="164.88" r="2.3" fill="#952d38"/>
<rect x="225.52" y="161.91" width="5.92" height="5.92" fill="#fbe4e4"/>
<circle cx="228.48" cy="164.88" r="2.3" fill="#952d38"/>
<rect x="232.25" y="161.91" width="5.92" height="5.92" fill="#fbe4e4"/>
<circle cx="235.21" cy="164.88" r="2.3" fill="#952d38"/>
<rect x="245.69" y="161.91" width="5.92" height="5.92" fill="#fbe4e4"/>
<circle cx="248.65" cy="164.88" r="2.3" fill="#952d38"/>
<rect x="212.08" y="168.64" width="5.92" height="5.92" fill="#f9dede"/>
<circle cx="215.04" cy="171.60" r="2.85" fill="#821826"/>
<rect x="212.08" y="175.36" width="5.92" height="5.92" fill="#f9dede"/>
<circle cx="215.04" cy="178.32" r="2.85" fill="#821826"/>
<rect x="212.08" y="182.08" width="5.92" height="5.92" fill="#fbe4e4"/>
<circle cx="215.04" cy="185.04" r="2.3" fill="#952d38"/>
<rect x="131.40" y="188.81" width="5.92" height="5.92" fill="#ecf0f7"/>
<circle cx="134.36" cy="191.77" r="1.85" fill="#5f6e9a"/>
<rect x="138.12" y="188.81" width="5.92" height="5.92" fill="#e1e7f5"/>
<circle cx="141.08" cy="191.77" r="2.85" fill="#34499a"/>
<rect x="165.02" y="188.81" width="5.92" height="5.92" fill="#e7ecf6"/>
<circle cx="167.98" cy="191.77" r="2.3" fill="#4e64a2"/>
<rect x="178.46" y="188.81" width="5.92" height="5.92" fill="#f8eced"/>
<circle cx="181.42" cy="191.77" r="1.8" fill="#735760"/>
<rect x="218.80" y="188.81" width="5.92" height="5.92" fill="#fbe4e4"/>
<circle cx="221.76" cy="191.77" r="2.3" fill="#952d38"/>
<rect x="232.25" y="188.81" width="5.92" height="5.92" fill="#f8eced"/>
<circle cx="235.21" cy="191.77" r="1.8" fill="#735760"/>
<rect x="238.97" y="188.81" width="5.92" height="5.92" fill="#fbe4e4"/>
<circle cx="241.93" cy="191.77" r="2.3" fill="#952d38"/>
<rect x="279.31" y="195.53" width="5.92" height="5.92" fill="#f9dede"/>
<circle cx="282.27" cy="198.49" r="2.85" fill="#821826"/>
<rect x="279.31" y="202.25" width="5.92" height="5.92" fill="#fbe4e4"/>
<circle cx="282.27" cy="205.21" r="2.3" fill="#952d38"/>
<rect x="131.40" y="208.97" width="5.92" height="5.92" fill="#e7ecf6"/>
<circle cx="134.36" cy="211.94" r="2.3" fill="#4e64a2"/>
<rect x="279.31" y="208.97" width="5.92" height="5.92" fill="#fbe4e4"/>
<circle cx="282.27" cy="211.94" r="2.3" fill="#952d38"/>
<rect x="144.85" y="222.42" width="5.92" height="5.92" fill="#fbe8e8"/>
<circle cx="147.81" cy="225.38" r="1.85" fill="#7e3640"/>
<rect x="185.18" y="222.42" width="5.92" height="5.92" fill="#ecf0f7"/>
<circle cx="188.15" cy="225.38" r="1.85" fill="#5f6e9a"/>
<rect x="185.18" y="229.14" width="5.92" height="5.92" fill="#e7ecf6"/>
<circle cx="188.15" cy="232.11" r="2.3" fill="#4e64a2"/>
<rect x="191.91" y="229.14" width="5.92" height="5.92" fill="#e7ecf6"/>
<circle cx="194.87" cy="232.11" r="2.3" fill="#4e64a2"/>
<rect x="306.20" y="229.14" width="5.92" height="5.92" fill="#fbe8e8"/>
<circle cx="309.16" cy="232.11" r="1.85" fill="#7e3640"/>
<rect x="312.92" y="229.14" width="5.92" height="5.92" fill="#fbe8e8"/>
<circle cx="315.88" cy="232.11" r="1.85" fill="#7e3640"/>
<rect x="292.75" y="235.87" width="5.92" height="5.92" fill="#f8eced"/>
<circle cx="295.71" cy="238.83" r="1.8" fill="#735760"/>
<rect x="306.20" y="235.87" width="5.92" height="5.92" fill="#fbe4e4"/>
<circle cx="309.16" cy="238.83" r="2.3" fill="#952d38"/>
<rect x="292.75" y="249.31" width="5.92" height="5.92" fill="#f8eaec"/>
<circle cx="295.71" cy="252.27" r="2.15" fill="#6e4f5a"/>
<rect x="306.20" y="249.31" width="5.92" height="5.92" fill="#f8eaec"/>
<circle cx="309.16" cy="252.27" r="2.15" fill="#6e4f5a"/>
<rect x="326.37" y="249.31" width="5.92" height="5.92" fill="#f9dede"/>
<circle cx="329.33" cy="252.27" r="2.85" fill="#821826"/>
<rect x="333.09" y="249.31" width="5.92" height="5.92" fill="#fbe4e4"/>
<circle cx="336.05" cy="252.27" r="2.3" fill="#952d38"/>
<rect x="185.18" y="256.04" width="5.92" height="5.92" fill="#e7ecf6"/>
<circle cx="188.15" cy="259.00" r="2.3" fill="#4e64a2"/>
<rect x="272.58" y="256.04" width="5.92" height="5.92" fill="#fbe4e4"/>
<circle cx="275.54" cy="259.00" r="2.3" fill="#952d38"/>
<rect x="292.75" y="256.04" width="5.92" height="5.92" fill="#f8eaec"/>
<circle cx="295.71" cy="259.00" r="2.15" fill="#6e4f5a"/>
<rect x="312.92" y="256.04" width="5.92" height="5.92" fill="#f8eaec"/>
<circle cx="315.88" cy="259.00" r="2.15" fill="#6e4f5a"/>
<rect x="319.64" y="256.04" width="5.92" height="5.92" fill="#f8eaec"/>
<circle cx="322.61" cy="259.00" r="2.15" fill="#6e4f5a"/>
<rect x="333.09" y="256.04" width="5.92" height="5.92" fill="#fbe4e4"/>
<circle cx="336.05" cy="259.00" r="2.3" fill="#952d38"/>
<rect x="339.81" y="256.04" width="5.92" height="5.92" fill="#fbe4e4"/>
<circle cx="342.77" cy="259.00" r="2.3" fill="#952d38"/>
<rect x="218.80" y="262.76" width="5.92" height="5.92" fill="#fbe4e4"/>
<circle cx="221.76" cy="265.72" r="2.3" fill="#952d38"/>
<rect x="279.31" y="262.76" width="5.92" height="5.92" fill="#fbe4e4"/>
<circle cx="282.27" cy="265.72" r="2.3" fill="#952d38"/>
<rect x="218.80" y="269.48" width="5.92" height="5.92" fill="#fbe4e4"/>
<circle cx="221.76" cy="272.44" r="2.3" fill="#952d38"/>
<rect x="265.86" y="269.48" width="5.92" height="5.92" fill="#fbe4e4"/>
<circle cx="268.82" cy="272.44" r="2.3" fill="#952d38"/>
<rect x="272.58" y="269.48" width="5.92" height="5.92" fill="#fbe4e4"/>
<circle cx="275.54" cy="272.44" r="2.3" fill="#952d38"/>
<rect x="353.26" y="269.48" width="5.92" height="5.92" fill="#f4d9dc"/>
<rect x="353.32" y="269.54" width="5.80" height="5.80" fill="#4a0816"/>
<rect x="131.40" y="276.20" width="5.92" height="5.92" fill="#ecf0f7"/>
<circle cx="134.36" cy="279.17" r="1.85" fill="#5f6e9a"/>
<rect x="138.12" y="276.20" width="5.92" height="5.92" fill="#e7ecf6"/>
<circle cx="141.08" cy="279.17" r="2.3" fill="#4e64a2"/>
<rect x="178.46" y="276.20" width="5.92" height="5.92" fill="#f8eced"/>
<circle cx="181.42" cy="279.17" r="1.8" fill="#735760"/>
<rect x="185.18" y="276.20" width="5.92" height="5.92" fill="#f8eced"/>
<circle cx="188.15" cy="279.17" r="1.8" fill="#735760"/>
<rect x="191.91" y="276.20" width="5.92" height="5.92" fill="#f8eced"/>
<circle cx="194.87" cy="279.17" r="1.8" fill="#735760"/>
<rect x="212.08" y="276.20" width="5.92" height="5.92" fill="#fbe4e4"/>
<circle cx="215.04" cy="279.17" r="2.3" fill="#952d38"/>
<rect x="218.80" y="276.20" width="5.92" height="5.92" fill="#fbe4e4"/>
<circle cx="221.76" cy="279.17" r="2.3" fill="#952d38"/>
<rect x="232.25" y="276.20" width="5.92" height="5.92" fill="#f8eced"/>
<circle cx="235.21" cy="279.17" r="1.8" fill="#735760"/>
<rect x="252.41" y="276.20" width="5.92" height="5.92" fill="#fbe4e4"/>
<circle cx="255.38" cy="279.17" r="2.3" fill="#952d38"/>
<rect x="279.31" y="276.20" width="5.92" height="5.92" fill="#f9dede"/>
<circle cx="282.27" cy="279.17" r="2.85" fill="#821826"/>
<rect x="286.03" y="276.20" width="5.92" height="5.92" fill="#fbe4e4"/>
<circle cx="288.99" cy="279.17" r="2.3" fill="#952d38"/>
<rect x="292.75" y="276.20" width="5.92" height="5.92" fill="#f8eced"/>
<circle cx="295.71" cy="279.17" r="1.8" fill="#735760"/>
<rect x="299.47" y="276.20" width="5.92" height="5.92" fill="#fbe4e4"/>
<circle cx="302.44" cy="279.17" r="2.3" fill="#952d38"/>
<rect x="312.92" y="276.20" width="5.92" height="5.92" fill="#f8eced"/>
<circle cx="315.88" cy="279.17" r="1.8" fill="#735760"/>
<rect x="319.64" y="276.20" width="5.92" height="5.92" fill="#f8eced"/>
<circle cx="322.61" cy="279.17" r="1.8" fill="#735760"/>
<rect x="339.81" y="276.20" width="5.92" height="5.92" fill="#f8eced"/>
<circle cx="342.77" cy="279.17" r="1.8" fill="#735760"/>
<rect x="346.54" y="276.20" width="5.92" height="5.92" fill="#f8eced"/>
<circle cx="349.50" cy="279.17" r="1.8" fill="#735760"/>
<rect x="353.26" y="276.20" width="5.92" height="5.92" fill="#fbe4e4"/>
<circle cx="356.22" cy="279.17" r="2.3" fill="#952d38"/>
<rect x="359.98" y="276.20" width="5.92" height="5.92" fill="#fbe4e4"/>
<circle cx="362.94" cy="279.17" r="2.3" fill="#952d38"/>
<rect x="131.40" y="282.93" width="5.92" height="5.92" fill="#ecf0f7"/>
<circle cx="134.36" cy="285.89" r="1.85" fill="#5f6e9a"/>
<rect x="138.12" y="282.93" width="5.92" height="5.92" fill="#e7ecf6"/>
<circle cx="141.08" cy="285.89" r="2.3" fill="#4e64a2"/>
<rect x="178.46" y="282.93" width="5.92" height="5.92" fill="#f8eced"/>
<circle cx="181.42" cy="285.89" r="1.8" fill="#735760"/>
<rect x="185.18" y="282.93" width="5.92" height="5.92" fill="#e7ecf6"/>
<circle cx="188.15" cy="285.89" r="2.3" fill="#4e64a2"/>
<rect x="279.31" y="282.93" width="5.92" height="5.92" fill="#f8eced"/>
<circle cx="282.27" cy="285.89" r="1.8" fill="#735760"/>
<rect x="299.47" y="282.93" width="5.92" height="5.92" fill="#f8eced"/>
<circle cx="302.44" cy="285.89" r="1.8" fill="#735760"/>
<rect x="319.64" y="282.93" width="5.92" height="5.92" fill="#f8eced"/>
<circle cx="322.61" cy="285.89" r="1.8" fill="#735760"/>
<rect x="366.70" y="282.93" width="5.92" height="5.92" fill="#fbe4e4"/>
<circle cx="369.67" cy="285.89" r="2.3" fill="#952d38"/>
<rect x="131.40" y="289.65" width="5.92" height="5.92" fill="#e7ecf6"/>
<circle cx="134.36" cy="292.61" r="2.3" fill="#4e64a2"/>
<rect x="279.31" y="289.65" width="5.92" height="5.92" fill="#fbe4e4"/>
<circle cx="282.27" cy="292.61" r="2.3" fill="#952d38"/>
<rect x="366.70" y="289.65" width="5.92" height="5.92" fill="#fbe4e4"/>
<circle cx="369.67" cy="292.61" r="2.3" fill="#952d38"/>
<rect x="131.40" y="296.37" width="5.92" height="5.92" fill="#f8eced"/>
<circle cx="134.36" cy="299.34" r="1.8" fill="#735760"/>
<rect x="191.91" y="296.37" width="5.92" height="5.92" fill="#e7ecf6"/>
<circle cx="194.87" cy="299.34" r="2.3" fill="#4e64a2"/>
<rect x="279.31" y="296.37" width="5.92" height="5.92" fill="#fbe4e4"/>
<circle cx="282.27" cy="299.34" r="2.3" fill="#952d38"/>
<rect x="312.92" y="296.37" width="5.92" height="5.92" fill="#f8eced"/>
<circle cx="315.88" cy="299.34" r="1.8" fill="#735760"/>
<rect x="366.70" y="296.37" width="5.92" height="5.92" fill="#f8eced"/>
<circle cx="369.67" cy="299.34" r="1.8" fill="#735760"/>
<rect x="373.43" y="296.37" width="5.92" height="5.92" fill="#fbe4e4"/>
<circle cx="376.39" cy="299.34" r="2.3" fill="#952d38"/>
<rect x="380.15" y="296.37" width="5.92" height="5.92" fill="#fbe4e4"/>
<circle cx="383.11" cy="299.34" r="2.3" fill="#952d38"/>
<rect x="312.92" y="303.10" width="5.92" height="5.92" fill="#f9dede"/>
<circle cx="315.88" cy="306.06" r="2.85" fill="#821826"/>
<rect x="373.43" y="303.10" width="5.92" height="5.92" fill="#fbe4e4"/>
<circle cx="376.39" cy="306.06" r="2.3" fill="#952d38"/>
<rect x="373.43" y="309.82" width="5.92" height="5.92" fill="#f9dede"/>
<circle cx="376.39" cy="312.78" r="2.85" fill="#821826"/>
<rect x="380.15" y="309.82" width="5.92" height="5.92" fill="#f9dede"/>
<circle cx="383.11" cy="312.78" r="2.85" fill="#821826"/>
<rect x="131.40" y="316.54" width="5.92" height="5.92" fill="#e7ecf6"/>
<circle cx="134.36" cy="319.50" r="2.3" fill="#4e64a2"/>
<rect x="373.43" y="316.54" width="5.92" height="5.92" fill="#f9dede"/>
<circle cx="376.39" cy="319.50" r="2.85" fill="#821826"/>
<rect x="380.15" y="316.54" width="5.92" height="5.92" fill="#fbe4e4"/>
<circle cx="383.11" cy="319.50" r="2.3" fill="#952d38"/>
<rect x="178.46" y="323.27" width="5.92" height="5.92" fill="#e7ecf6"/>
<circle cx="181.42" cy="326.23" r="2.3" fill="#4e64a2"/>
<rect x="373.43" y="323.27" width="5.92" height="5.92" fill="#fbe4e4"/>
<circle cx="376.39" cy="326.23" r="2.3" fill="#952d38"/>
<rect x="380.15" y="323.27" width="5.92" height="5.92" fill="#fbe4e4"/>
<circle cx="383.11" cy="326.23" r="2.3" fill="#952d38"/>
<rect x="400.32" y="323.27" width="5.92" height="5.92" fill="#fbe4e4"/>
<circle cx="403.28" cy="326.23" r="2.3" fill="#952d38"/>
<rect x="131.40" y="329.99" width="5.92" height="5.92" fill="#ecf0f7"/>
<circle cx="134.36" cy="332.95" r="1.85" fill="#5f6e9a"/>
<rect x="144.85" y="329.99" width="5.92" height="5.92" fill="#e1e7f5"/>
<circle cx="147.81" cy="332.95" r="2.85" fill="#34499a"/>
<rect x="165.02" y="329.99" width="5.92" height="5.92" fill="#e7ecf6"/>
<circle cx="167.98" cy="332.95" r="2.3" fill="#4e64a2"/>
<rect x="252.41" y="329.99" width="5.92" height="5.92" fill="#fbe4e4"/>
<circle cx="255.38" cy="332.95" r="2.3" fill="#952d38"/>
<rect x="319.64" y="329.99" width="5.92" height="5.92" fill="#f8eaec"/>
<circle cx="322.61" cy="332.95" r="2.15" fill="#6e4f5a"/>
<rect x="366.70" y="329.99" width="5.92" height="5.92" fill="#fbe4e4"/>
<circle cx="369.67" cy="332.95" r="2.3" fill="#952d38"/>
<rect x="373.43" y="329.99" width="5.92" height="5.92" fill="#fbe4e4"/>
<circle cx="376.39" cy="332.95" r="2.3" fill="#952d38"/>
<rect x="386.87" y="329.99" width="5.92" height="5.92" fill="#fbe8e8"/>
<circle cx="389.84" cy="332.95" r="1.85" fill="#7e3640"/>
<rect x="185.18" y="336.71" width="5.92" height="5.92" fill="#e7ecf6"/>
<circle cx="188.15" cy="339.67" r="2.3" fill="#4e64a2"/>
<rect x="326.37" y="336.71" width="5.92" height="5.92" fill="#f8eaec"/>
<circle cx="329.33" cy="339.67" r="2.15" fill="#6e4f5a"/>
<rect x="339.81" y="336.71" width="5.92" height="5.92" fill="#f8eced"/>
<circle cx="342.77" cy="339.67" r="1.8" fill="#735760"/>
<rect x="346.54" y="336.71" width="5.92" height="5.92" fill="#fbe4e4"/>
<circle cx="349.50" cy="339.67" r="2.3" fill="#952d38"/>
<rect x="420.49" y="336.71" width="5.92" height="5.92" fill="#fbe4e4"/>
<circle cx="423.45" cy="339.67" r="2.3" fill="#952d38"/>
<rect x="185.18" y="343.43" width="5.92" height="5.92" fill="#e7ecf6"/>
<circle cx="188.15" cy="346.40" r="2.3" fill="#4e64a2"/>
<rect x="191.91" y="343.43" width="5.92" height="5.92" fill="#f8eced"/>
<circle cx="194.87" cy="346.40" r="1.8" fill="#735760"/>
<rect x="279.31" y="343.43" width="5.92" height="5.92" fill="#f8eced"/>
<circle cx="282.27" cy="346.40" r="1.8" fill="#735760"/>
<rect x="292.75" y="343.43" width="5.92" height="5.92" fill="#f8eced"/>
<circle cx="295.71" cy="346.40" r="1.8" fill="#735760"/>
<rect x="346.54" y="343.43" width="5.92" height="5.92" fill="#fbe4e4"/>
<circle cx="349.50" cy="346.40" r="2.3" fill="#952d38"/>
<rect x="366.70" y="343.43" width="5.92" height="5.92" fill="#f8eced"/>
<circle cx="369.67" cy="346.40" r="1.8" fill="#735760"/>
<rect x="373.43" y="343.43" width="5.92" height="5.92" fill="#f8eced"/>
<circle cx="376.39" cy="346.40" r="1.8" fill="#735760"/>
<rect x="386.87" y="343.43" width="5.92" height="5.92" fill="#f8eced"/>
<circle cx="389.84" cy="346.40" r="1.8" fill="#735760"/>
<rect x="420.49" y="343.43" width="5.92" height="5.92" fill="#f4d9dc"/>
<rect x="420.55" y="343.50" width="5.80" height="5.80" fill="#4a0816"/>
<rect x="427.21" y="343.43" width="5.92" height="5.92" fill="#f9dede"/>
<circle cx="430.17" cy="346.40" r="2.85" fill="#821826"/>
<rect x="144.85" y="350.16" width="5.92" height="5.92" fill="#ecf0f7"/>
<circle cx="147.81" cy="353.12" r="1.85" fill="#5f6e9a"/>
<rect x="185.18" y="350.16" width="5.92" height="5.92" fill="#e7ecf6"/>
<circle cx="188.15" cy="353.12" r="2.3" fill="#4e64a2"/>
<rect x="346.54" y="350.16" width="5.92" height="5.92" fill="#fbe4e4"/>
<circle cx="349.50" cy="353.12" r="2.3" fill="#952d38"/>
<rect x="366.70" y="350.16" width="5.92" height="5.92" fill="#f8eced"/>
<circle cx="369.67" cy="353.12" r="1.8" fill="#735760"/>
<rect x="373.43" y="350.16" width="5.92" height="5.92" fill="#f8eced"/>
<circle cx="376.39" cy="353.12" r="1.8" fill="#735760"/>
<rect x="386.87" y="350.16" width="5.92" height="5.92" fill="#f8eced"/>
<circle cx="389.84" cy="353.12" r="1.8" fill="#735760"/>
<rect x="420.49" y="350.16" width="5.92" height="5.92" fill="#f9dede"/>
<circle cx="423.45" cy="353.12" r="2.85" fill="#821826"/>
<rect x="427.21" y="350.16" width="5.92" height="5.92" fill="#f9dede"/>
<circle cx="430.17" cy="353.12" r="2.85" fill="#821826"/>
<rect x="433.93" y="350.16" width="5.92" height="5.92" fill="#f9dede"/>
<circle cx="436.90" cy="353.12" r="2.85" fill="#821826"/>
<rect x="138.12" y="356.88" width="5.92" height="5.92" fill="#ecf0f7"/>
<circle cx="141.08" cy="359.84" r="1.85" fill="#5f6e9a"/>
<rect x="144.85" y="356.88" width="5.92" height="5.92" fill="#fbe8e8"/>
<circle cx="147.81" cy="359.84" r="1.85" fill="#7e3640"/>
<rect x="151.57" y="356.88" width="5.92" height="5.92" fill="#f8eced"/>
<circle cx="154.53" cy="359.84" r="1.8" fill="#735760"/>
<rect x="185.18" y="356.88" width="5.92" height="5.92" fill="#e1e7f5"/>
<circle cx="188.15" cy="359.84" r="2.85" fill="#34499a"/>
<rect x="191.91" y="356.88" width="5.92" height="5.92" fill="#f8eced"/>
<circle cx="194.87" cy="359.84" r="1.8" fill="#735760"/>
<rect x="212.08" y="356.88" width="5.92" height="5.92" fill="#fbe4e4"/>
<circle cx="215.04" cy="359.84" r="2.3" fill="#952d38"/>
<rect x="218.80" y="356.88" width="5.92" height="5.92" fill="#f4d9dc"/>
<rect x="218.86" y="356.94" width="5.80" height="5.80" fill="#4a0816"/>
<rect x="232.25" y="356.88" width="5.92" height="5.92" fill="#f8eced"/>
<circle cx="235.21" cy="359.84" r="1.8" fill="#735760"/>
<rect x="252.41" y="356.88" width="5.92" height="5.92" fill="#fbe4e4"/>
<circle cx="255.38" cy="359.84" r="2.3" fill="#952d38"/>
<rect x="279.31" y="356.88" width="5.92" height="5.92" fill="#f8eced"/>
<circle cx="282.27" cy="359.84" r="1.8" fill="#735760"/>
<rect x="366.70" y="356.88" width="5.92" height="5.92" fill="#fbe4e4"/>
<circle cx="369.67" cy="359.84" r="2.3" fill="#952d38"/>
<rect x="420.49" y="356.88" width="5.92" height="5.92" fill="#f8eced"/>
<circle cx="423.45" cy="359.84" r="1.8" fill="#735760"/>
<rect x="427.21" y="356.88" width="5.92" height="5.92" fill="#f8eced"/>
<circle cx="430.17" cy="359.84" r="1.8" fill="#735760"/>
<rect x="158.29" y="363.60" width="5.92" height="5.92" fill="#fbe4e4"/>
<circle cx="161.25" cy="366.57" r="2.3" fill="#952d38"/>
<rect x="171.74" y="363.60" width="5.92" height="5.92" fill="#f8eced"/>
<circle cx="174.70" cy="366.57" r="1.8" fill="#735760"/>
<rect x="185.18" y="363.60" width="5.92" height="5.92" fill="#e1e7f5"/>
<circle cx="188.15" cy="366.57" r="2.85" fill="#34499a"/>
<rect x="279.31" y="363.60" width="5.92" height="5.92" fill="#e7ecf6"/>
<circle cx="282.27" cy="366.57" r="2.3" fill="#4e64a2"/>
<rect x="319.64" y="363.60" width="5.92" height="5.92" fill="#f8eced"/>
<circle cx="322.61" cy="366.57" r="1.8" fill="#735760"/>
<rect x="339.81" y="363.60" width="5.92" height="5.92" fill="#f8eced"/>
<circle cx="342.77" cy="366.57" r="1.8" fill="#735760"/>
<rect x="346.54" y="363.60" width="5.92" height="5.92" fill="#f8eced"/>
<circle cx="349.50" cy="366.57" r="1.8" fill="#735760"/>
<rect x="366.70" y="363.60" width="5.92" height="5.92" fill="#f8eced"/>
<circle cx="369.67" cy="366.57" r="1.8" fill="#735760"/>
<rect x="380.15" y="363.60" width="5.92" height="5.92" fill="#e7ecf6"/>
<circle cx="383.11" cy="366.57" r="2.3" fill="#4e64a2"/>
<rect x="420.49" y="363.60" width="5.92" height="5.92" fill="#fbe8e8"/>
<circle cx="423.45" cy="366.57" r="1.85" fill="#7e3640"/>
<rect x="427.21" y="363.60" width="5.92" height="5.92" fill="#fbe8e8"/>
<circle cx="430.17" cy="366.57" r="1.85" fill="#7e3640"/>
<rect x="440.66" y="363.60" width="5.92" height="5.92" fill="#f8eced"/>
<circle cx="443.62" cy="366.57" r="1.8" fill="#735760"/>
<rect x="131.40" y="370.33" width="5.92" height="5.92" fill="#e7ecf6"/>
<circle cx="134.36" cy="373.29" r="2.3" fill="#4e64a2"/>
<rect x="158.29" y="370.33" width="5.92" height="5.92" fill="#fbe4e4"/>
<circle cx="161.25" cy="373.29" r="2.3" fill="#952d38"/>
<rect x="171.74" y="370.33" width="5.92" height="5.92" fill="#e7ecf6"/>
<circle cx="174.70" cy="373.29" r="2.3" fill="#4e64a2"/>
<rect x="319.64" y="370.33" width="5.92" height="5.92" fill="#f8eced"/>
<circle cx="322.61" cy="373.29" r="1.8" fill="#735760"/>
<rect x="373.43" y="370.33" width="5.92" height="5.92" fill="#f8eced"/>
<circle cx="376.39" cy="373.29" r="1.8" fill="#735760"/>
<rect x="447.38" y="370.33" width="5.92" height="5.92" fill="#f8eced"/>
<circle cx="450.34" cy="373.29" r="1.8" fill="#735760"/>
<rect x="131.40" y="377.05" width="5.92" height="5.92" fill="#f8eced"/>
<circle cx="134.36" cy="380.01" r="1.8" fill="#735760"/>
<rect x="138.12" y="377.05" width="5.92" height="5.92" fill="#e7ecf6"/>
<circle cx="141.08" cy="380.01" r="2.3" fill="#4e64a2"/>
<rect x="165.02" y="377.05" width="5.92" height="5.92" fill="#f8eced"/>
<circle cx="167.98" cy="380.01" r="1.8" fill="#735760"/>
<rect x="185.18" y="377.05" width="5.92" height="5.92" fill="#e1e7f5"/>
<circle cx="188.15" cy="380.01" r="2.85" fill="#34499a"/>
<rect x="191.91" y="377.05" width="5.92" height="5.92" fill="#f8eced"/>
<circle cx="194.87" cy="380.01" r="1.8" fill="#735760"/>
<rect x="218.80" y="377.05" width="5.92" height="5.92" fill="#e7ecf6"/>
<circle cx="221.76" cy="380.01" r="2.3" fill="#4e64a2"/>
<rect x="366.70" y="377.05" width="5.92" height="5.92" fill="#fbe4e4"/>
<circle cx="369.67" cy="380.01" r="2.3" fill="#952d38"/>
<rect x="373.43" y="377.05" width="5.92" height="5.92" fill="#f4d9dc"/>
<rect x="373.49" y="377.11" width="5.80" height="5.80" fill="#4a0816"/>
<rect x="380.15" y="377.05" width="5.92" height="5.92" fill="#f4d9dc"/>
<rect x="380.21" y="377.11" width="5.80" height="5.80" fill="#4a0816"/>
<rect x="386.87" y="377.05" width="5.92" height="5.92" fill="#fbe4e4"/>
<circle cx="389.84" cy="380.01" r="2.3" fill="#952d38"/>
<rect x="400.32" y="377.05" width="5.92" height="5.92" fill="#fbe4e4"/>
<circle cx="403.28" cy="380.01" r="2.3" fill="#952d38"/>
<rect x="407.04" y="377.05" width="5.92" height="5.92" fill="#fbe4e4"/>
<circle cx="410.00" cy="380.01" r="2.3" fill="#952d38"/>
<rect x="413.77" y="377.05" width="5.92" height="5.92" fill="#fbe4e4"/>
<circle cx="416.73" cy="380.01" r="2.3" fill="#952d38"/>
<rect x="420.49" y="377.05" width="5.92" height="5.92" fill="#f8eced"/>
<circle cx="423.45" cy="380.01" r="1.8" fill="#735760"/>
<rect x="433.93" y="377.05" width="5.92" height="5.92" fill="#f8eced"/>
<circle cx="436.90" cy="380.01" r="1.8" fill="#735760"/>
<rect x="440.66" y="377.05" width="5.92" height="5.92" fill="#f8eced"/>
<circle cx="443.62" cy="380.01" r="1.8" fill="#735760"/>
<rect x="460.83" y="377.05" width="5.92" height="5.92" fill="#fbe4e4"/>
<circle cx="463.79" cy="380.01" r="2.3" fill="#952d38"/>
<rect x="158.29" y="383.77" width="5.92" height="5.92" fill="#fbe4e4"/>
<circle cx="161.25" cy="386.73" r="2.3" fill="#952d38"/>
<rect x="185.18" y="383.77" width="5.92" height="5.92" fill="#e1e7f5"/>
<circle cx="188.15" cy="386.73" r="2.85" fill="#34499a"/>
<rect x="191.91" y="383.77" width="5.92" height="5.92" fill="#f8eced"/>
<circle cx="194.87" cy="386.73" r="1.8" fill="#735760"/>
<rect x="218.80" y="383.77" width="5.92" height="5.92" fill="#e7ecf6"/>
<circle cx="221.76" cy="386.73" r="2.3" fill="#4e64a2"/>
<rect x="232.25" y="383.77" width="5.92" height="5.92" fill="#f8eced"/>
<circle cx="235.21" cy="386.73" r="1.8" fill="#735760"/>
<rect x="279.31" y="383.77" width="5.92" height="5.92" fill="#e7ecf6"/>
<circle cx="282.27" cy="386.73" r="2.3" fill="#4e64a2"/>
<rect x="319.64" y="383.77" width="5.92" height="5.92" fill="#f8eced"/>
<circle cx="322.61" cy="386.73" r="1.8" fill="#735760"/>
<rect x="339.81" y="383.77" width="5.92" height="5.92" fill="#f8eced"/>
<circle cx="342.77" cy="386.73" r="1.8" fill="#735760"/>
<rect x="346.54" y="383.77" width="5.92" height="5.92" fill="#f8eced"/>
<circle cx="349.50" cy="386.73" r="1.8" fill="#735760"/>
<rect x="366.70" y="383.77" width="5.92" height="5.92" fill="#f8eced"/>
<circle cx="369.67" cy="386.73" r="1.8" fill="#735760"/>
<rect x="380.15" y="383.77" width="5.92" height="5.92" fill="#e7ecf6"/>
<circle cx="383.11" cy="386.73" r="2.3" fill="#4e64a2"/>
<rect x="420.49" y="383.77" width="5.92" height="5.92" fill="#f8eced"/>
<circle cx="423.45" cy="386.73" r="1.8" fill="#735760"/>
<rect x="427.21" y="383.77" width="5.92" height="5.92" fill="#fbe8e8"/>
<circle cx="430.17" cy="386.73" r="1.85" fill="#7e3640"/>
<rect x="433.93" y="383.77" width="5.92" height="5.92" fill="#f8eced"/>
<circle cx="436.90" cy="386.73" r="1.8" fill="#735760"/>
<rect x="440.66" y="383.77" width="5.92" height="5.92" fill="#f8eced"/>
<circle cx="443.62" cy="386.73" r="1.8" fill="#735760"/>
<rect x="454.10" y="383.77" width="5.92" height="5.92" fill="#f4d9dc"/>
<rect x="454.17" y="383.83" width="5.80" height="5.80" fill="#4a0816"/>
<rect x="460.83" y="383.77" width="5.92" height="5.92" fill="#f4d9dc"/>
<rect x="460.89" y="383.83" width="5.80" height="5.80" fill="#4a0816"/>
<rect x="467.55" y="383.77" width="5.92" height="5.92" fill="#f8eced"/>
<circle cx="470.51" cy="386.73" r="1.8" fill="#735760"/>
<g font-family="Liberation Sans, sans-serif" font-size="7" fill="#1e1e1e" stroke="#1e1e1e" stroke-width="0.06" text-anchor="end">
<text x="127.2" y="45.76">HRD</text>
<text x="127.2" y="52.48">CN−cluster 2</text>
<text x="127.2" y="59.21">gain6p21.3</text>
<text x="127.2" y="65.93">CN−cluster 1</text>
<text x="127.2" y="72.65">CYLD</text>
<text x="127.2" y="79.38">NRAS</text>
<text x="127.2" y="86.10">KRAS</text>
<text x="127.2" y="92.82">t(MYC)</text>
<text x="127.2" y="99.55">CN−cluster 8</text>
<text x="127.2" y="106.27">t(11;14)</text>
<text x="127.2" y="112.99">IRF4</text>
<text x="127.2" y="119.71">CCND1</text>
<text x="127.2" y="126.44">APOBEC</text>
<text x="127.2" y="133.16">CN−cluster 7</text>
<text x="127.2" y="139.88">BRAF</text>
<text x="127.2" y="146.61">DIS3</text>
<text x="127.2" y="153.33">PRKD2</text>
<text x="127.2" y="160.05">TRAF2</text>
<text x="127.2" y="166.78">t(14;16)</text>
<text x="127.2" y="173.50">t(14;20)</text>
<text x="127.2" y="180.22">ATM</text>
<text x="127.2" y="186.94">Homologous recombination deficiency</text>
<text x="127.2" y="193.67">t(4;14)</text>
<text x="127.2" y="200.39">FGFR3</text>
<text x="127.2" y="207.11">del12p13.1 (CDKN1B)</text>
<text x="127.2" y="213.84">CN−cluster 4</text>
<text x="127.2" y="220.56">gain8q24 (MYC)</text>
<text x="127.2" y="227.28">del6q26 (PARK2)</text>
<text x="127.2" y="234.01">del8p21.2 (DOCK5)</text>
<text x="127.2" y="240.73">TP53</text>
<text x="127.2" y="247.45">del2p23.3 (DNMT3A)</text>
<text x="127.2" y="254.17">del17p13.1 (TP53)</text>
<text x="127.2" y="260.90">LOH</text>
<text x="127.2" y="267.62">del11q22.1 (BIRC3)</text>
<text x="127.2" y="274.34">del11q22.3 (ATM)</text>
<text x="127.2" y="281.07">del13q</text>
<text x="127.2" y="287.79">del14q24.3 (ABCD4)</text>
<text x="127.2" y="294.51">CN−cluster 5</text>
<text x="127.2" y="301.24">del4p16.3 (FGFR3)</text>
<text x="127.2" y="307.96">t(6;14)</text>
<text x="127.2" y="314.68">NFKBIA</text>
<text x="127.2" y="321.40">MAX</text>
<text x="127.2" y="328.13">TRAF3</text>
<text x="127.2" y="334.85">CN−cluster 3</text>
<text x="127.2" y="341.57">del1p32.3 (CDKN2C)</text>
<text x="127.2" y="348.30">del1p22.1 (RPL5)</text>
<text x="127.2" y="355.02">del1p12 (FAM46C)</text>
<text x="127.2" y="361.74">gain1q21.3 (CKS1B)</text>
<text x="127.2" y="368.47">del16q12.1 (CYLD)</text>
<text x="127.2" y="375.19">CN−cluster 6</text>
<text x="127.2" y="381.91">del14q32.3 (TRAF3)</text>
<text x="127.2" y="388.63">del16q23.1 (WWOX)</text>
</g>
<g font-family="Liberation Sans, sans-serif" font-size="7" fill="#1e1e1e" stroke="#1e1e1e" stroke-width="0.06">
<text x="136.96" y="38.30" transform="rotate(-60 136.96 38.30)">HRD</text>
<text x="143.68" y="45.02" transform="rotate(-60 143.68 45.02)">CN−cluster 2</text>
<text x="150.41" y="51.75" transform="rotate(-60 150.41 51.75)">gain6p21.3</text>
<text x="157.13" y="58.47" transform="rotate(-60 157.13 58.47)">CN−cluster 1</text>
<text x="163.85" y="65.19" transform="rotate(-60 163.85 65.19)">CYLD</text>
<text x="170.58" y="71.92" transform="rotate(-60 170.58 71.92)">NRAS</text>
<text x="177.30" y="78.64" transform="rotate(-60 177.30 78.64)">KRAS</text>
<text x="184.02" y="85.36" transform="rotate(-60 184.02 85.36)">t(MYC)</text>
<text x="190.75" y="92.08" transform="rotate(-60 190.75 92.08)">CN−cluster 8</text>
<text x="197.47" y="98.81" transform="rotate(-60 197.47 98.81)">t(11;14)</text>
<text x="204.19" y="105.53" transform="rotate(-60 204.19 105.53)">IRF4</text>
<text x="210.91" y="112.25" transform="rotate(-60 210.91 112.25)">CCND1</text>
<text x="217.64" y="118.98" transform="rotate(-60 217.64 118.98)">APOBEC</text>
<text x="224.36" y="125.70" transform="rotate(-60 224.36 125.70)">CN−cluster 7</text>
<text x="231.08" y="132.42" transform="rotate(-60 231.08 132.42)">BRAF</text>
<text x="237.81" y="139.15" transform="rotate(-60 237.81 139.15)">DIS3</text>
<text x="244.53" y="145.87" transform="rotate(-60 244.53 145.87)">PRKD2</text>
<text x="251.25" y="152.59" transform="rotate(-60 251.25 152.59)">TRAF2</text>
<text x="257.98" y="159.31" transform="rotate(-60 257.98 159.31)">t(14;16)</text>
<text x="264.70" y="166.04" transform="rotate(-60 264.70 166.04)">t(14;20)</text>
<text x="271.42" y="172.76" transform="rotate(-60 271.42 172.76)">ATM</text>
<text x="278.14" y="179.48" transform="rotate(-60 278.14 179.48)">Homologous recombination deficiency</text>
<text x="284.87" y="186.21" transform="rotate(-60 284.87 186.21)">t(4;14)</text>
<text x="291.59" y="192.93" transform="rotate(-60 291.59 192.93)">FGFR3</text>
<text x="298.31" y="199.65" transform="rotate(-60 298.31 199.65)">del12p13.1 (CDKN1B)</text>
<text x="305.04" y="206.38" transform="rotate(-60 305.04 206.38)">CN−cluster 4</text>
<text x="311.76" y="213.10" transform="rotate(-60 311.76 213.10)">gain8q24 (MYC)</text>
<text x="318.48" y="219.82" transform="rotate(-60 318.48 219.82)">del6q26 (PARK2)</text>
<text x="325.21" y="226.54" transform="rotate(-60 325.21 226.54)">del8p21.2 (DOCK5)</text>
<text x="331.93" y="233.27" transform="rotate(-60 331.93 233.27)">TP53</text>
<text x="338.65" y="239.99" transform="rotate(-60 338.65 239.99)">del2p23.3 (DNMT3A)</text>
<text x="345.37" y="246.71" transform="rotate(-60 345.37 246.71)">del17p13.1 (TP53)</text>
<text x="352.10" y="253.44" transform="rotate(-60 352.10 253.44)">LOH</text>
<text x="358.82" y="260.16" transform="rotate(-60 358.82 260.16)">del11q22.1 (BIRC3)</text>
<text x="365.54" y="266.88" transform="rotate(-60 365.54 266.88)">del11q22.3 (ATM)</text>
<text x="372.27" y="273.61" transform="rotate(-60 372.27 273.61)">del13q</text>
<text x="378.99" y="280.33" transform="rotate(-60 378.99 280.33)">del14q24.3 (ABCD4)</text>
<text x="385.71" y="287.05" transform="rotate(-60 385.71 287.05)">CN−cluster 5</text>
<text x="392.44" y="293.77" transform="rotate(-60 392.44 293.77)">del4p16.3 (FGFR3)</text>
<text x="399.16" y="300.50" transform="rotate(-60 399.16 300.50)">t(6;14)</text>
<text x="405.88" y="307.22" transform="rotate(-60 405.88 307.22)">NFKBIA</text>
<text x="412.60" y="313.94" transform="rotate(-60 412.60 313.94)">MAX</text>
<text x="419.33" y="320.67" transform="rotate(-60 419.33 320.67)">TRAF3</text>
<text x="426.05" y="327.39" transform="rotate(-60 426.05 327.39)">CN−cluster 3</text>
<text x="432.77" y="334.11" transform="rotate(-60 432.77 334.11)">del1p32.3 (CDKN2C)</text>
<text x="439.50" y="340.83" transform="rotate(-60 439.50 340.83)">del1p22.1 (RPL5)</text>
<text x="446.22" y="347.56" transform="rotate(-60 446.22 347.56)">del1p12 (FAM46C)</text>
<text x="452.94" y="354.28" transform="rotate(-60 452.94 354.28)">gain1q21.3 (CKS1B)</text>
<text x="459.67" y="361.00" transform="rotate(-60 459.67 361.00)">del16q12.1 (CYLD)</text>
<text x="466.39" y="367.73" transform="rotate(-60 466.39 367.73)">CN−cluster 6</text>
<text x="473.11" y="374.45" transform="rotate(-60 473.11 374.45)">del14q32.3 (TRAF3)</text>
<text x="479.83" y="381.17" transform="rotate(-60 479.83 381.17)">del16q23.1 (WWOX)</text>
</g>
<rect x="131.20" y="393.8" width="35.22" height="13.70" fill="#233463"/>
<rect x="166.12" y="393.8" width="35.22" height="13.70" fill="#2d4a8c"/>
<rect x="201.04" y="393.8" width="35.22" height="13.70" fill="#3b62ad"/>
<rect x="235.96" y="393.8" width="35.22" height="13.70" fill="#5784c8"/>
<rect x="270.88" y="393.8" width="35.22" height="13.70" fill="#7b9cc2"/>
<rect x="305.80" y="393.8" width="35.22" height="13.70" fill="#c7736a"/>
<rect x="340.72" y="393.8" width="35.22" height="13.70" fill="#c53a36"/>
<rect x="375.64" y="393.8" width="35.22" height="13.70" fill="#ab1f2c"/>
<rect x="410.56" y="393.8" width="35.22" height="13.70" fill="#8c1a24"/>
<rect x="445.48" y="393.8" width="35.22" height="13.70" fill="#5c1020"/>
<rect x="131.2" y="393.8" width="349.20" height="13.70" fill="none" stroke="#111" stroke-width="1"/>
<g stroke="#111" stroke-width="0.9">
<line x1="131.20" y1="407.5" x2="131.20" y2="410.30"/>
<line x1="166.12" y1="407.5" x2="166.12" y2="410.30"/>
<line x1="201.04" y1="407.5" x2="201.04" y2="410.30"/>
<line x1="235.96" y1="407.5" x2="235.96" y2="410.30"/>
<line x1="270.88" y1="407.5" x2="270.88" y2="410.30"/>
<line x1="305.80" y1="407.5" x2="305.80" y2="410.30"/>
<line x1="340.72" y1="407.5" x2="340.72" y2="410.30"/>
<line x1="375.64" y1="407.5" x2="375.64" y2="410.30"/>
<line x1="410.56" y1="407.5" x2="410.56" y2="410.30"/>
<line x1="445.48" y1="407.5" x2="445.48" y2="410.30"/>
<line x1="480.40" y1="407.5" x2="480.40" y2="410.30"/>
</g>
<g font-family="Liberation Sans, sans-serif" font-size="7.2" fill="#2a2a2a" text-anchor="middle">
<text x="130.20" y="419.9">−5</text>
<text x="165.12" y="419.9">−4</text>
<text x="200.04" y="419.9">−3</text>
<text x="234.96" y="419.9">−2</text>
<text x="269.88" y="419.9">−1</text>
<text x="305.80" y="419.9">0</text>
<text x="340.72" y="419.9">1</text>
<text x="375.64" y="419.9">2</text>
<text x="410.56" y="419.9">3</text>
<text x="445.48" y="419.9">4</text>
<text x="480.40" y="419.9">5</text>
</g>
<g font-family="Liberation Sans, sans-serif"><defs><pattern id="stripes" patternUnits="userSpaceOnUse" x="0" y="470.4" width="20" height="6.7"><rect x="0" y="0" width="20" height="3.2" fill="#141414"/></pattern></defs>
<path d="M118.20,564.60A9.00,9.00 0 0 1 117.31,568.50L112.80,566.34A4.00,4.00 0 0 0 113.20,564.60Z" fill="#6d9e3e" stroke="#fff" stroke-width="0.7"/>
<path d="M124.20,564.60A15.00,15.00 0 0 1 122.71,571.11L117.31,568.50A9.00,9.00 0 0 0 118.20,564.60Z" fill="#6d9e3e" stroke="#fff" stroke-width="0.7"/>
<path d="M176.70,564.60A67.50,67.50 0 0 1 170.02,593.89L122.71,571.11A15.00,15.00 0 0 0 124.20,564.60Z" fill="#479a76" stroke="#fff" stroke-width="0.7"/>
<path d="M176.70,564.60A67.50,67.50 0 0 1 170.02,593.89L122.71,571.11A15.00,15.00 0 0 0 124.20,564.60Z" fill="url(#stripes)" stroke="#fff" stroke-width="0.7"/>
<path d="M118.21,568.94A10.00,10.00 0 0 1 115.43,572.42L111.69,567.73A4.00,4.00 0 0 0 112.80,566.34Z" fill="#55633a" stroke="#fff" stroke-width="0.7"/>
<path d="M143.89,581.30A38.50,38.50 0 0 1 133.20,594.70L115.43,572.42A10.00,10.00 0 0 0 118.21,568.94Z" fill="#479a76" stroke="#fff" stroke-width="0.7"/>
<path d="M143.89,581.30A38.50,38.50 0 0 1 133.20,594.70L115.43,572.42A10.00,10.00 0 0 0 118.21,568.94Z" fill="url(#stripes)" stroke="#fff" stroke-width="0.7"/>
<path d="M115.43,572.42A10.00,10.00 0 0 1 111.43,574.35L110.09,568.50A4.00,4.00 0 0 0 111.69,567.73Z" fill="#6d9e3e" stroke="#fff" stroke-width="0.7"/>
<path d="M124.35,583.60A24.30,24.30 0 0 1 114.61,588.29L111.43,574.35A10.00,10.00 0 0 0 115.43,572.42Z" fill="#7c72b8" stroke="#fff" stroke-width="0.7"/>
<path d="M133.27,594.78A38.60,38.60 0 0 1 117.79,602.23L114.76,588.97A25.00,25.00 0 0 0 124.79,584.15Z" fill="#c9237f" stroke="#fff" stroke-width="0.7"/>
<path d="M148.23,613.54A62.60,62.60 0 0 1 123.13,625.63L117.97,603.01A39.40,39.40 0 0 0 133.77,595.40Z" fill="#d9b22a" stroke="#fff" stroke-width="0.7"/>
<path d="M149.42,615.03A64.50,64.50 0 0 1 123.55,627.48L123.31,626.41A63.40,63.40 0 0 0 148.73,614.17Z" fill="#d9b22a" stroke="#fff" stroke-width="0.7"/>
<path d="M151.72,617.92A68.20,68.20 0 0 1 124.38,631.09L123.75,628.36A65.40,65.40 0 0 0 149.98,615.73Z" fill="#6d9e3e" stroke="#fff" stroke-width="0.7"/>
<path d="M110.76,571.42A7.00,7.00 0 0 1 107.64,571.42L108.53,567.52A3.00,3.00 0 0 0 109.87,567.52Z" fill="#141414" stroke="#fff" stroke-width="0.7"/>
<path d="M116.32,595.80A32.00,32.00 0 0 1 102.08,595.80L107.42,572.40A8.00,8.00 0 0 0 110.98,572.40Z" fill="#c8682a" stroke="#fff" stroke-width="0.7"/>
<path d="M116.32,595.80A32.00,32.00 0 0 1 102.08,595.80L107.42,572.40A8.00,8.00 0 0 0 110.98,572.40Z" fill="url(#stripes)" stroke="#fff" stroke-width="0.7"/>
<path d="M106.31,577.27A13.00,13.00 0 0 1 101.09,574.76L106.08,568.51A5.00,5.00 0 0 0 108.09,569.47Z" fill="#7c72b8" stroke="#fff" stroke-width="0.7"/>
<path d="M102.52,593.85A30.00,30.00 0 0 1 90.50,588.05L100.47,575.55A14.00,14.00 0 0 0 106.08,578.25Z" fill="#c8682a" stroke="#fff" stroke-width="0.7"/>
<path d="M102.52,593.85A30.00,30.00 0 0 1 90.50,588.05L100.47,575.55A14.00,14.00 0 0 0 106.08,578.25Z" fill="url(#stripes)" stroke="#fff" stroke-width="0.7"/>
<path d="M102.97,572.42A10.00,10.00 0 0 1 100.19,568.94L104.70,566.77A5.00,5.00 0 0 0 106.08,568.51Z" fill="#6d9e3e" stroke="#fff" stroke-width="0.7"/>
<path d="M97.35,579.45A19.00,19.00 0 0 1 92.08,572.84L99.29,569.37A11.00,11.00 0 0 0 102.34,573.20Z" fill="#7c72b8" stroke="#fff" stroke-width="0.7"/>
<path d="M92.98,572.41A18.00,18.00 0 0 1 91.20,564.60L101.20,564.60A8.00,8.00 0 0 0 101.99,568.07Z" fill="#c9237f" stroke="#fff" stroke-width="0.7"/>
<path d="M60.10,588.25A54.50,54.50 0 0 1 54.70,564.60L90.20,564.60A19.00,19.00 0 0 0 92.08,572.84Z" fill="#7c72b8" stroke="#fff" stroke-width="0.7"/>
<path d="M60.10,588.25A54.50,54.50 0 0 1 54.70,564.60L90.20,564.60A19.00,19.00 0 0 0 92.08,572.84Z" fill="url(#stripes)" stroke="#fff" stroke-width="0.7"/>
<path d="M91.20,564.60A18.00,18.00 0 0 1 92.98,556.79L101.99,561.13A8.00,8.00 0 0 0 101.20,564.60Z" fill="#c9237f" stroke="#fff" stroke-width="0.7"/>
<path d="M72.60,564.60A36.60,36.60 0 0 1 76.22,548.72L92.08,556.36A19.00,19.00 0 0 0 90.20,564.60Z" fill="#7c72b8" stroke="#fff" stroke-width="0.7"/>
<path d="M72.60,564.60A36.60,36.60 0 0 1 76.22,548.72L92.08,556.36A19.00,19.00 0 0 0 90.20,564.60Z" fill="url(#stripes)" stroke="#fff" stroke-width="0.7"/>
<path d="M100.19,560.26A10.00,10.00 0 0 1 102.97,556.78L106.08,560.69A5.00,5.00 0 0 0 104.70,562.43Z" fill="#479a76" stroke="#fff" stroke-width="0.7"/>
<path d="M73.16,547.24A40.00,40.00 0 0 1 84.26,533.33L102.34,556.00A11.00,11.00 0 0 0 99.29,559.83Z" fill="#7c72b8" stroke="#fff" stroke-width="0.7"/>
<path d="M73.16,547.24A40.00,40.00 0 0 1 84.26,533.33L102.34,556.00A11.00,11.00 0 0 0 99.29,559.83Z" fill="url(#stripes)" stroke="#fff" stroke-width="0.7"/>
<path d="M97.98,550.53A18.00,18.00 0 0 1 105.19,547.05L107.20,555.83A9.00,9.00 0 0 0 103.59,557.56Z" fill="#c9237f" stroke="#fff" stroke-width="0.7"/>
<path d="M96.11,548.18A21.00,21.00 0 0 1 104.53,544.13L104.97,546.08A19.00,19.00 0 0 0 97.35,549.75Z" fill="#e6dc9a" stroke="#fff" stroke-width="0.7"/>
<path d="M85.20,534.50A38.50,38.50 0 0 1 100.63,527.07L104.39,543.54A21.60,21.60 0 0 0 95.73,547.71Z" fill="#c8682a" stroke="#fff" stroke-width="0.7"/>
<path d="M70.54,516.13A62.00,62.00 0 0 1 95.40,504.15L100.45,526.29A39.30,39.30 0 0 0 84.70,533.87Z" fill="#479a76" stroke="#fff" stroke-width="0.7"/>
<path d="M70.54,516.13A62.00,62.00 0 0 1 95.40,504.15L100.45,526.29A39.30,39.30 0 0 0 84.70,533.87Z" fill="url(#stripes)" stroke="#fff" stroke-width="0.7"/>
<path d="M44.36,483.29A104.00,104.00 0 0 1 86.06,463.21L95.23,503.37A62.80,62.80 0 0 0 70.04,515.50Z" fill="#7c72b8" stroke="#fff" stroke-width="0.7"/>
<path d="M44.36,483.29A104.00,104.00 0 0 1 86.06,463.21L95.23,503.37A62.80,62.80 0 0 0 70.04,515.50Z" fill="url(#stripes)" stroke="#fff" stroke-width="0.7"/>
<path d="M107.42,556.80A8.00,8.00 0 0 1 110.98,556.80L110.09,560.70A4.00,4.00 0 0 0 108.31,560.70Z" fill="#479a76" stroke="#fff" stroke-width="0.7"/>
<path d="M105.19,547.05A18.00,18.00 0 0 1 113.21,547.05L111.20,555.83A9.00,9.00 0 0 0 107.20,555.83Z" fill="#c9237f" stroke="#fff" stroke-width="0.7"/>
<path d="M98.39,517.22A48.60,48.60 0 0 1 120.01,517.22L113.43,546.08A19.00,19.00 0 0 0 104.97,546.08Z" fill="#7c72b8" stroke="#fff" stroke-width="0.7"/>
<path d="M98.39,517.22A48.60,48.60 0 0 1 120.01,517.22L113.43,546.08A19.00,19.00 0 0 0 104.97,546.08Z" fill="url(#stripes)" stroke="#fff" stroke-width="0.7"/>
<path d="M112.09,551.93A13.00,13.00 0 0 1 117.31,554.44L112.32,560.69A5.00,5.00 0 0 0 110.31,559.73Z" fill="#479a76" stroke="#fff" stroke-width="0.7"/>
<path d="M113.43,546.08A19.00,19.00 0 0 1 121.05,549.75L117.93,553.65A14.00,14.00 0 0 0 112.32,550.95Z" fill="#c9237f" stroke="#fff" stroke-width="0.7"/>
<path d="M114.76,540.23A25.00,25.00 0 0 1 124.79,545.05L121.42,549.28A19.60,19.60 0 0 0 113.56,545.49Z" fill="#e6dc9a" stroke="#fff" stroke-width="0.7"/>
<path d="M114.76,540.23A25.00,25.00 0 0 1 124.79,545.05L121.42,549.28A19.60,19.60 0 0 0 113.56,545.49Z" fill="url(#stripes)" stroke="#fff" stroke-width="0.7"/>
<path d="M125.56,492.94A73.50,73.50 0 0 1 155.03,507.14L125.16,544.59A25.60,25.60 0 0 0 114.90,539.64Z" fill="#7c72b8" stroke="#fff" stroke-width="0.7"/>
<path d="M125.56,492.94A73.50,73.50 0 0 1 155.03,507.14L125.16,544.59A25.60,25.60 0 0 0 114.90,539.64Z" fill="url(#stripes)" stroke="#fff" stroke-width="0.7"/>
<path d="M144.74,520.04A57.00,57.00 0 0 1 160.56,539.87L113.70,562.43A5.00,5.00 0 0 0 112.32,560.69Z" fill="#c9237f" stroke="#fff" stroke-width="0.7"/>
<path d="M144.74,520.04A57.00,57.00 0 0 1 160.56,539.87L113.70,562.43A5.00,5.00 0 0 0 112.32,560.69Z" fill="url(#stripes)" stroke="#fff" stroke-width="0.7"/>
<path d="M122.71,558.09A15.00,15.00 0 0 1 124.20,564.60L114.20,564.60A5.00,5.00 0 0 0 113.70,562.43Z" fill="#c8682a" stroke="#fff" stroke-width="0.7"/>
<path d="M125.42,556.79A18.00,18.00 0 0 1 127.20,564.60L125.20,564.60A16.00,16.00 0 0 0 123.62,557.66Z" fill="#7c72b8" stroke="#fff" stroke-width="0.7"/>
<path d="M155.51,542.30A51.40,51.40 0 0 1 160.60,564.60L128.20,564.60A19.00,19.00 0 0 0 126.32,556.36Z" fill="#d9b22a" stroke="#fff" stroke-width="0.7"/>
<path d="M155.51,542.30A51.40,51.40 0 0 1 160.60,564.60L128.20,564.60A19.00,19.00 0 0 0 126.32,556.36Z" fill="url(#stripes)" stroke="#fff" stroke-width="0.7"/>
<line x1="109.2" y1="564.6" x2="219.20" y2="564.60" stroke="#fff" stroke-width="1.1"/>
<line x1="109.2" y1="564.6" x2="208.31" y2="612.33" stroke="#fff" stroke-width="1.1"/>
<line x1="109.2" y1="564.6" x2="177.78" y2="650.60" stroke="#fff" stroke-width="1.1"/>
<line x1="109.2" y1="564.6" x2="133.68" y2="671.84" stroke="#fff" stroke-width="1.1"/>
<line x1="109.2" y1="564.6" x2="84.72" y2="671.84" stroke="#fff" stroke-width="1.1"/>
<line x1="109.2" y1="564.6" x2="40.62" y2="650.60" stroke="#fff" stroke-width="1.1"/>
<line x1="109.2" y1="564.6" x2="10.09" y2="612.33" stroke="#fff" stroke-width="1.1"/>
<line x1="109.2" y1="564.6" x2="-0.80" y2="564.60" stroke="#fff" stroke-width="1.1"/>
<line x1="109.2" y1="564.6" x2="10.09" y2="516.87" stroke="#fff" stroke-width="1.1"/>
<line x1="109.2" y1="564.6" x2="40.62" y2="478.60" stroke="#fff" stroke-width="1.1"/>
<line x1="109.2" y1="564.6" x2="84.72" y2="457.36" stroke="#fff" stroke-width="1.1"/>
<line x1="109.2" y1="564.6" x2="133.68" y2="457.36" stroke="#fff" stroke-width="1.1"/>
<line x1="109.2" y1="564.6" x2="177.78" y2="478.60" stroke="#fff" stroke-width="1.1"/>
<line x1="109.2" y1="564.6" x2="208.31" y2="516.87" stroke="#fff" stroke-width="1.1"/>
<circle cx="109.2" cy="564.6" r="3.2" fill="#fff"/>
<line x1="84.04" y1="534.15" x2="33.71" y2="473.26" stroke="#111" stroke-width="1.3"/>
<line x1="84.04" y1="534.15" x2="85.73" y2="532.75" stroke="#111" stroke-width="1.1"/>
<text x="75.17" y="541.48" transform="rotate(-39.6 75.17 541.48)" font-size="5.8" text-anchor="middle" dominant-baseline="middle" fill="#2a2a2a" stroke="#2a2a2a" stroke-width="0.1">15%</text>
<line x1="58.87" y1="503.70" x2="60.57" y2="502.30" stroke="#111" stroke-width="1.1"/>
<text x="50.01" y="511.03" transform="rotate(-39.6 50.01 511.03)" font-size="5.8" text-anchor="middle" dominant-baseline="middle" fill="#2a2a2a" stroke="#2a2a2a" stroke-width="0.1">30%</text>
<line x1="33.71" y1="473.26" x2="35.41" y2="471.86" stroke="#111" stroke-width="1.1"/>
<text x="24.85" y="480.58" transform="rotate(-39.6 24.85 480.58)" font-size="5.8" text-anchor="middle" dominant-baseline="middle" fill="#2a2a2a" stroke="#2a2a2a" stroke-width="0.1">45%</text>
<text x="179.10" y="580.55" transform="rotate(-77.1 179.10 580.55)" font-size="5.7" text-anchor="middle" dominant-baseline="middle" fill="#2a2a2a" stroke="#2a2a2a" stroke-width="0.1">FGFR3</text>
<text x="142.58" y="591.22" transform="rotate(-51.4 142.58 591.22)" font-size="5.7" text-anchor="middle" dominant-baseline="middle" fill="#2a2a2a" stroke="#2a2a2a" stroke-width="0.1">PRKD2</text>
<text x="140.61" y="629.83" transform="rotate(-25.7 140.61 629.83)" font-size="5.7" text-anchor="middle" dominant-baseline="middle" fill="#2a2a2a" stroke="#2a2a2a" stroke-width="0.1">NRAS</text>
<text x="108.52" y="603.59" transform="rotate(1.0 108.52 603.59)" font-size="5.7" text-anchor="middle" dominant-baseline="middle" fill="#2a2a2a" stroke="#2a2a2a" stroke-width="0.1">CCND1</text>
<text x="94.36" y="595.41" transform="rotate(25.7 94.36 595.41)" font-size="5.7" text-anchor="middle" dominant-baseline="middle" fill="#2a2a2a" stroke="#2a2a2a" stroke-width="0.1">IRF4</text>
<text x="87.09" y="580.96" transform="rotate(53.5 87.09 580.96)" font-size="5.7" text-anchor="middle" dominant-baseline="middle" fill="#2a2a2a" stroke="#2a2a2a" stroke-width="0.1">MAX</text>
<text x="51.97" y="577.66" transform="rotate(77.1 51.97 577.66)" font-size="5.7" text-anchor="middle" dominant-baseline="middle" fill="#2a2a2a" stroke="#2a2a2a" stroke-width="0.1">MAF</text>
<text x="69.42" y="555.52" transform="rotate(-77.1 69.42 555.52)" font-size="5.7" text-anchor="middle" dominant-baseline="middle" fill="#2a2a2a" stroke="#2a2a2a" stroke-width="0.1">TRAF2</text>
<text x="69.27" y="534.51" transform="rotate(-53.0 69.27 534.51)" font-size="5.7" text-anchor="middle" dominant-baseline="middle" fill="#2a2a2a" stroke="#2a2a2a" stroke-width="0.1">EP300</text>
<text x="62.25" y="467.12" transform="rotate(-25.7 62.25 467.12)" font-size="5.7" text-anchor="middle" dominant-baseline="middle" fill="#2a2a2a" stroke="#2a2a2a" stroke-width="0.1">DIS3</text>
<text x="109.20" y="511.80" transform="rotate(0.0 109.20 511.80)" font-size="5.7" text-anchor="middle" dominant-baseline="middle" fill="#2a2a2a" stroke="#2a2a2a" stroke-width="0.1">ATM</text>
<text x="142.91" y="494.59" transform="rotate(25.7 142.91 494.59)" font-size="5.7" text-anchor="middle" dominant-baseline="middle" fill="#2a2a2a" stroke="#2a2a2a" stroke-width="0.1">BRAF</text>
<text x="157.05" y="526.44" transform="rotate(51.4 157.05 526.44)" font-size="5.7" text-anchor="middle" dominant-baseline="middle" fill="#2a2a2a" stroke="#2a2a2a" stroke-width="0.1">MAFB</text>
<text x="163.41" y="552.23" transform="rotate(77.1 163.41 552.23)" font-size="5.7" text-anchor="middle" dominant-baseline="middle" fill="#2a2a2a" stroke="#2a2a2a" stroke-width="0.1">FAM46C</text>
<rect x="179.8" y="455.10" width="5" height="5" fill="#479a76"/>
<text x="188" y="459.60" font-size="5.6" fill="#2a2a2a" stroke="#2a2a2a" stroke-width="0.08">t(4;14)</text>
<rect x="179.8" y="464.48" width="5" height="5" fill="#c8682a"/>
<text x="188" y="468.98" font-size="5.6" fill="#2a2a2a" stroke="#2a2a2a" stroke-width="0.08">t(11;14)</text>
<rect x="179.8" y="473.86" width="5" height="5" fill="#7c72b8"/>
<text x="188" y="478.36" font-size="5.6" fill="#2a2a2a" stroke="#2a2a2a" stroke-width="0.08">t(14;16)</text>
<rect x="179.8" y="483.24" width="5" height="5" fill="#c9237f"/>
<text x="188" y="487.74" font-size="5.6" fill="#2a2a2a" stroke="#2a2a2a" stroke-width="0.08">t(14;20)</text>
<rect x="179.8" y="492.62" width="5" height="5" fill="#6d9e3e"/>
<text x="188" y="497.12" font-size="5.6" fill="#2a2a2a" stroke="#2a2a2a" stroke-width="0.08">CN1</text>
<rect x="179.8" y="502.00" width="5" height="5" fill="#d9b22a"/>
<text x="188" y="506.50" font-size="5.6" fill="#2a2a2a" stroke="#2a2a2a" stroke-width="0.08">CN2</text></g>
<g font-family="Liberation Sans, sans-serif" font-size="6.8" fill="#2a2a2a"><path d="M333.60,530.91A27.00,27.00 0 0 1 344.28,527.44L347.10,554.29Z" fill="#c20a1e" stroke="#fff" stroke-width="0.9"/>
<path d="M323.60,513.59A47.00,47.00 0 0 1 342.19,507.55L344.28,527.44A27.00,27.00 0 0 0 333.60,530.91Z" fill="#67a03c" stroke="#fff" stroke-width="0.9"/>
<path d="M304.10,479.82A86.00,86.00 0 0 1 338.11,468.77L342.19,507.55A47.00,47.00 0 0 0 323.60,513.59Z" fill="#8b3d99" stroke="#fff" stroke-width="0.9"/>
<path d="M343.76,522.47A32.00,32.00 0 0 1 356.99,523.86L347.10,554.29Z" fill="#c20a1e" stroke="#fff" stroke-width="0.9"/>
<path d="M343.04,515.71A38.80,38.80 0 0 1 359.09,517.39L356.99,523.86A32.00,32.00 0 0 0 343.76,522.47Z" fill="#4d78c0" stroke="#fff" stroke-width="0.9"/>
<path d="M339.00,477.22A77.50,77.50 0 0 1 371.05,480.59L359.09,517.39A38.80,38.80 0 0 0 343.04,515.71Z" fill="#67a03c" stroke="#fff" stroke-width="0.9"/>
<path d="M338.11,468.77A86.00,86.00 0 0 1 373.68,472.50L371.05,480.59A77.50,77.50 0 0 0 339.00,477.22Z" fill="#8b3d99" stroke="#fff" stroke-width="0.9"/>
<path d="M355.97,527.00A28.70,28.70 0 0 1 366.30,532.97L347.10,554.29Z" fill="#c20a1e" stroke="#fff" stroke-width="0.9"/>
<path d="M357.24,523.10A32.80,32.80 0 0 1 369.05,529.92L366.30,532.97A28.70,28.70 0 0 0 355.97,527.00Z" fill="#4d78c0" stroke="#fff" stroke-width="0.9"/>
<path d="M365.08,498.94A58.20,58.20 0 0 1 386.04,511.04L369.05,529.92A32.80,32.80 0 0 0 357.24,523.10Z" fill="#67a03c" stroke="#fff" stroke-width="0.9"/>
<path d="M373.68,472.50A86.00,86.00 0 0 1 404.65,490.38L386.04,511.04A58.20,58.20 0 0 0 365.08,498.94Z" fill="#8b3d99" stroke="#fff" stroke-width="0.9"/>
<path d="M366.30,532.97A28.70,28.70 0 0 1 373.32,542.62L347.10,554.29Z" fill="#c20a1e" stroke="#fff" stroke-width="0.9"/>
<path d="M376.01,522.19A43.20,43.20 0 0 1 386.57,536.72L373.32,542.62A28.70,28.70 0 0 0 366.30,532.97Z" fill="#4d78c0" stroke="#fff" stroke-width="0.9"/>
<path d="M396.95,498.93A74.50,74.50 0 0 1 415.16,523.99L386.57,536.72A43.20,43.20 0 0 0 376.01,522.19Z" fill="#67a03c" stroke="#fff" stroke-width="0.9"/>
<path d="M404.65,490.38A86.00,86.00 0 0 1 425.66,519.32L415.16,523.99A74.50,74.50 0 0 0 396.95,498.93Z" fill="#8b3d99" stroke="#fff" stroke-width="0.9"/>
<path d="M374.78,541.97A30.30,30.30 0 0 1 377.40,554.29L347.10,554.29Z" fill="#c20a1e" stroke="#fff" stroke-width="0.9"/>
<path d="M381.36,539.04A37.50,37.50 0 0 1 384.60,554.29L377.40,554.29A30.30,30.30 0 0 0 374.78,541.97Z" fill="#4d78c0" stroke="#fff" stroke-width="0.9"/>
<path d="M409.86,526.35A68.70,68.70 0 0 1 415.80,554.29L384.60,554.29A37.50,37.50 0 0 0 381.36,539.04Z" fill="#67a03c" stroke="#fff" stroke-width="0.9"/>
<path d="M425.66,519.32A86.00,86.00 0 0 1 433.10,554.29L415.80,554.29A68.70,68.70 0 0 0 409.86,526.35Z" fill="#8b3d99" stroke="#fff" stroke-width="0.9"/>
<line x1="347.10" y1="554.29" x2="303.60" y2="478.95" stroke="#fff" stroke-width="1.0"/>
<line x1="347.10" y1="554.29" x2="338.01" y2="467.77" stroke="#fff" stroke-width="1.0"/>
<line x1="347.10" y1="554.29" x2="373.98" y2="471.55" stroke="#fff" stroke-width="1.0"/>
<line x1="347.10" y1="554.29" x2="405.31" y2="489.64" stroke="#fff" stroke-width="1.0"/>
<line x1="347.10" y1="554.29" x2="426.58" y2="518.91" stroke="#fff" stroke-width="1.0"/>
<line x1="347.10" y1="554.29" x2="434.10" y2="554.29" stroke="#fff" stroke-width="1.0"/>
<path d="M425.60,558.11A78.50,78.50 0 0 1 418.81,590.03L347.10,558.11Z" fill="#85c6a6" stroke="#fff" stroke-width="0.9"/>
<path d="M433.10,558.11A86.00,86.00 0 0 1 425.66,593.08L418.81,590.03A78.50,78.50 0 0 0 425.60,558.11Z" fill="#8fa0d8" stroke="#fff" stroke-width="0.9"/>
<path d="M355.32,561.77A9.00,9.00 0 0 1 353.12,564.79L347.10,558.11Z" fill="#85c6a6" stroke="#fff" stroke-width="0.9"/>
<path d="M392.78,578.44A50.00,50.00 0 0 1 380.56,595.26L353.12,564.79A9.00,9.00 0 0 0 355.32,561.77Z" fill="#e48a5c" stroke="#fff" stroke-width="0.9"/>
<path d="M425.66,593.08A86.00,86.00 0 0 1 404.65,622.02L380.56,595.26A50.00,50.00 0 0 0 392.78,578.44Z" fill="#8fa0d8" stroke="#fff" stroke-width="0.9"/>
<path d="M354.46,566.28A11.00,11.00 0 0 1 350.50,568.57L347.10,558.11Z" fill="#85c6a6" stroke="#fff" stroke-width="0.9"/>
<path d="M389.92,605.67A64.00,64.00 0 0 1 366.88,618.97L350.50,568.57A11.00,11.00 0 0 0 354.46,566.28Z" fill="#e48a5c" stroke="#fff" stroke-width="0.9"/>
<path d="M404.65,622.02A86.00,86.00 0 0 1 373.68,639.90L366.88,618.97A64.00,64.00 0 0 0 389.92,605.67Z" fill="#8fa0d8" stroke="#fff" stroke-width="0.9"/>
<path d="M352.82,575.70A18.50,18.50 0 0 1 345.17,576.50L347.10,558.11Z" fill="#85c6a6" stroke="#fff" stroke-width="0.9"/>
<path d="M365.49,614.69A59.50,59.50 0 0 1 340.88,617.28L345.17,576.50A18.50,18.50 0 0 0 352.82,575.70Z" fill="#e48a5c" stroke="#fff" stroke-width="0.9"/>
<path d="M373.68,639.90A86.00,86.00 0 0 1 338.11,643.63L340.88,617.28A59.50,59.50 0 0 0 365.49,614.69Z" fill="#8fa0d8" stroke="#fff" stroke-width="0.9"/>
<path d="M344.70,580.98A23.00,23.00 0 0 1 335.60,578.02L347.10,558.11Z" fill="#85c6a6" stroke="#fff" stroke-width="0.9"/>
<path d="M339.21,633.19A75.50,75.50 0 0 1 309.35,623.49L335.60,578.02A23.00,23.00 0 0 0 344.70,580.98Z" fill="#e48a5c" stroke="#fff" stroke-width="0.9"/>
<path d="M338.11,643.63A86.00,86.00 0 0 1 304.10,632.58L309.35,623.49A75.50,75.50 0 0 0 339.21,633.19Z" fill="#8fa0d8" stroke="#fff" stroke-width="0.9"/>
<line x1="347.10" y1="558.11" x2="434.10" y2="558.11" stroke="#fff" stroke-width="1.0"/>
<line x1="347.10" y1="558.11" x2="426.58" y2="593.49" stroke="#fff" stroke-width="1.0"/>
<line x1="347.10" y1="558.11" x2="405.31" y2="622.76" stroke="#fff" stroke-width="1.0"/>
<line x1="347.10" y1="558.11" x2="373.98" y2="640.85" stroke="#fff" stroke-width="1.0"/>
<line x1="347.10" y1="558.11" x2="338.01" y2="644.63" stroke="#fff" stroke-width="1.0"/>
<line x1="347.10" y1="558.11" x2="303.60" y2="633.45" stroke="#fff" stroke-width="1.0"/>
<path d="M300.80,630.68A86.00,86.00 0 0 1 274.22,606.75L343.80,556.20Z" fill="#67a03c" stroke="#fff" stroke-width="0.9"/>
<path d="M279.89,602.64A79.00,79.00 0 0 1 266.53,572.63L343.80,556.20Z" fill="#67a03c" stroke="#fff" stroke-width="0.9"/>
<path d="M274.22,606.75A86.00,86.00 0 0 1 259.68,574.08L266.53,572.63A79.00,79.00 0 0 0 279.89,602.64Z" fill="#8b3d99" stroke="#fff" stroke-width="0.9"/>
<path d="M338.42,557.34A5.50,5.50 0 0 1 338.42,555.06L343.80,556.20Z" fill="#67a03c" stroke="#fff" stroke-width="0.9"/>
<path d="M330.40,559.05A13.70,13.70 0 0 1 330.40,553.35L338.42,555.06A5.50,5.50 0 0 0 338.42,557.34Z" fill="#4d78c0" stroke="#fff" stroke-width="0.9"/>
<path d="M259.68,574.08A86.00,86.00 0 0 1 259.68,538.32L330.40,553.35A13.70,13.70 0 0 0 330.40,559.05Z" fill="#67a03c" stroke="#fff" stroke-width="0.9"/>
<path d="M338.42,555.06A5.50,5.50 0 0 1 339.35,552.97L343.80,556.20Z" fill="#67a03c" stroke="#fff" stroke-width="0.9"/>
<path d="M333.04,553.91A11.00,11.00 0 0 1 334.90,549.73L339.35,552.97A5.50,5.50 0 0 0 338.42,555.06Z" fill="#4d78c0" stroke="#fff" stroke-width="0.9"/>
<path d="M263.10,539.05A82.50,82.50 0 0 1 277.06,507.71L334.90,549.73A11.00,11.00 0 0 0 333.04,553.91Z" fill="#67a03c" stroke="#fff" stroke-width="0.9"/>
<path d="M259.68,538.32A86.00,86.00 0 0 1 274.22,505.65L277.06,507.71A82.50,82.50 0 0 0 263.10,539.05Z" fill="#8b3d99" stroke="#fff" stroke-width="0.9"/>
<path d="M338.54,552.38A6.50,6.50 0 0 1 340.55,550.57L343.80,556.20Z" fill="#67a03c" stroke="#fff" stroke-width="0.9"/>
<path d="M335.71,550.32A10.00,10.00 0 0 1 338.80,547.54L340.55,550.57A6.50,6.50 0 0 0 338.54,552.38Z" fill="#4d78c0" stroke="#fff" stroke-width="0.9"/>
<path d="M281.10,510.65A77.50,77.50 0 0 1 305.05,489.08L338.80,547.54A10.00,10.00 0 0 0 335.71,550.32Z" fill="#67a03c" stroke="#fff" stroke-width="0.9"/>
<path d="M274.22,505.65A86.00,86.00 0 0 1 300.80,481.72L305.05,489.08A77.50,77.50 0 0 0 281.10,510.65Z" fill="#8b3d99" stroke="#fff" stroke-width="0.9"/>
<line x1="343.80" y1="556.20" x2="300.30" y2="631.54" stroke="#fff" stroke-width="1.0"/>
<line x1="343.80" y1="556.20" x2="273.42" y2="607.34" stroke="#fff" stroke-width="1.0"/>
<line x1="343.80" y1="556.20" x2="258.70" y2="574.29" stroke="#fff" stroke-width="1.0"/>
<line x1="343.80" y1="556.20" x2="258.70" y2="538.11" stroke="#fff" stroke-width="1.0"/>
<line x1="343.80" y1="556.20" x2="273.42" y2="505.06" stroke="#fff" stroke-width="1.0"/>
<line x1="343.80" y1="556.20" x2="300.30" y2="480.86" stroke="#fff" stroke-width="1.0"/>
<circle cx="346.0" cy="556.2" r="3.8" fill="#fff"/>
<text x="318.52" y="466.32" transform="rotate(-18.0 318.52 466.32)" text-anchor="middle" dominant-baseline="middle" stroke="#2a2a2a" stroke-width="0.15">t(14;16)</text>
<text x="356.77" y="462.30" transform="rotate(6.0 356.77 462.30)" text-anchor="middle" dominant-baseline="middle" stroke="#2a2a2a" stroke-width="0.15">t(11;14)</text>
<text x="393.35" y="474.19" transform="rotate(30.0 393.35 474.19)" text-anchor="middle" dominant-baseline="middle" stroke="#2a2a2a" stroke-width="0.15">t(4;14)</text>
<text x="421.93" y="499.92" transform="rotate(54.0 421.93 499.92)" text-anchor="middle" dominant-baseline="middle" stroke="#2a2a2a" stroke-width="0.15">CN2</text>
<text x="437.58" y="535.06" transform="rotate(78.0 437.58 535.06)" text-anchor="middle" dominant-baseline="middle" stroke="#2a2a2a" stroke-width="0.15">CN1</text>
<text x="399.00" y="464.40" transform="rotate(30.0 399.00 464.40)" text-anchor="middle" dominant-baseline="middle" font-style="italic" stroke="#2a2a2a" stroke-width="0.15">KRAS</text>
<text x="437.58" y="577.34" transform="rotate(-78.0 437.58 577.34)" text-anchor="middle" dominant-baseline="middle" stroke="#2a2a2a" stroke-width="0.15">t(14;16)</text>
<text x="421.93" y="612.48" transform="rotate(-54.0 421.93 612.48)" text-anchor="middle" dominant-baseline="middle" stroke="#2a2a2a" stroke-width="0.15">t(11;14)</text>
<text x="393.35" y="638.21" transform="rotate(-30.0 393.35 638.21)" text-anchor="middle" dominant-baseline="middle" stroke="#2a2a2a" stroke-width="0.15">t(4;14)</text>
<text x="356.77" y="650.10" transform="rotate(-6.0 356.77 650.10)" text-anchor="middle" dominant-baseline="middle" stroke="#2a2a2a" stroke-width="0.15">CN2</text>
<text x="318.52" y="646.08" transform="rotate(18.0 318.52 646.08)" text-anchor="middle" dominant-baseline="middle" stroke="#2a2a2a" stroke-width="0.15">CN1</text>
<text x="399.00" y="648.00" transform="rotate(-30.0 399.00 648.00)" text-anchor="middle" dominant-baseline="middle" font-style="italic" stroke="#2a2a2a" stroke-width="0.15">BRAF</text>
<text x="281.91" y="624.94" transform="rotate(42.0 281.91 624.94)" text-anchor="middle" dominant-baseline="middle" stroke="#2a2a2a" stroke-width="0.15">t(14;16)</text>
<text x="259.30" y="593.82" transform="rotate(66.0 259.30 593.82)" text-anchor="middle" dominant-baseline="middle" stroke="#2a2a2a" stroke-width="0.15">t(11;14)</text>
<text x="251.30" y="556.20" transform="rotate(-90.0 251.30 556.20)" text-anchor="middle" dominant-baseline="middle" stroke="#2a2a2a" stroke-width="0.15">t(4;14)</text>
<text x="259.30" y="518.58" transform="rotate(-66.0 259.30 518.58)" text-anchor="middle" dominant-baseline="middle" stroke="#2a2a2a" stroke-width="0.15">CN2</text>
<text x="281.91" y="487.46" transform="rotate(-42.0 281.91 487.46)" text-anchor="middle" dominant-baseline="middle" stroke="#2a2a2a" stroke-width="0.15">CN1</text>
<text x="240.00" y="556.20" transform="rotate(-90.0 240.00 556.20)" text-anchor="middle" dominant-baseline="middle" font-style="italic" stroke="#2a2a2a" stroke-width="0.15">NRAS</text>
<rect x="453" y="455.50" width="5.2" height="5" fill="#c20a1e"/>
<text x="461.2" y="460.00" font-size="5.5" stroke="#2a2a2a" stroke-width="0.08" xml:space="preserve"><tspan font-style="italic">KRAS/NRAS</tspan> G12</text>
<rect x="453" y="465.07" width="5.2" height="5" fill="#4d78c0"/>
<text x="461.2" y="469.57" font-size="5.5" stroke="#2a2a2a" stroke-width="0.08" xml:space="preserve"><tspan font-style="italic">KRAS/NRAS</tspan> G13</text>
<rect x="453" y="474.64" width="5.2" height="5" fill="#67a03c"/>
<text x="461.2" y="479.14" font-size="5.5" stroke="#2a2a2a" stroke-width="0.08" xml:space="preserve"><tspan font-style="italic">KRAS/NRAS</tspan> Q61</text>
<rect x="453" y="484.21" width="5.2" height="5" fill="#8b3d99"/>
<text x="461.2" y="488.71" font-size="5.5" stroke="#2a2a2a" stroke-width="0.08" xml:space="preserve"><tspan font-style="italic">KRAS/NRAS</tspan> <tspan font-style="italic">other</tspan></text>
<rect x="453" y="493.78" width="5.2" height="5" fill="#85c6a6"/>
<text x="461.2" y="498.28" font-size="5.5" stroke="#2a2a2a" stroke-width="0.08" xml:space="preserve"><tspan font-style="italic">BRAF</tspan>  D594</text>
<rect x="453" y="503.35" width="5.2" height="5" fill="#e48a5c"/>
<text x="461.2" y="507.85" font-size="5.5" stroke="#2a2a2a" stroke-width="0.08" xml:space="preserve"><tspan font-style="italic">BRAF</tspan> V600</text>
<rect x="453" y="512.92" width="5.2" height="5" fill="#8fa0d8"/>
<text x="461.2" y="517.42" font-size="5.5" stroke="#2a2a2a" stroke-width="0.08" xml:space="preserve"><tspan font-style="italic">BRAF</tspan>  <tspan font-style="italic">other</tspan></text></g>
<rect x="0.8" y="0.8" width="518.4" height="662.4" fill="none" stroke="#000" stroke-width="1.6"/>
</svg>
</body></html>
